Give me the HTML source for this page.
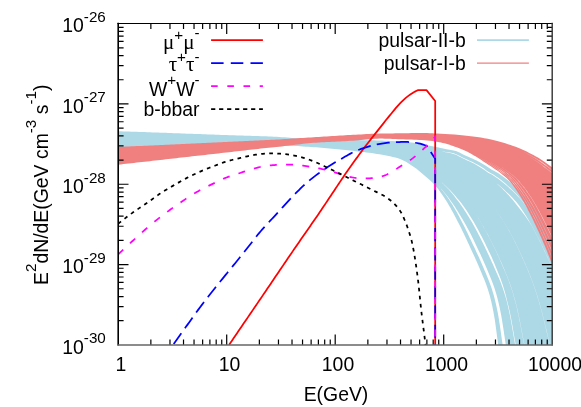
<!DOCTYPE html>
<html><head><meta charset="utf-8"><title>plot</title>
<style>html,body{margin:0;padding:0;background:#fff;width:581px;height:407px;overflow:hidden}
svg{display:block}text{white-space:pre}</style></head>
<body>
<svg width="581" height="407" viewBox="0 0 581 407" style="position:absolute;left:0;top:0;will-change:transform">
<defs><clipPath id="c"><rect x="118.2" y="23.6" width="434" height="321.3"/></clipPath></defs>
<g clip-path="url(#c)">
<path d="M118.2,131.2L120.84,131.29L123.48,131.38L126.12,131.47L128.76,131.57L131.4,131.66L134.04,131.75L136.68,131.84L139.32,131.94L141.96,132.03L144.6,132.12L147.24,132.21L149.88,132.31L152.52,132.4L155.16,132.49L157.8,132.59L160.44,132.68L163.08,132.77L165.72,132.87L168.36,132.96L171,133.06L173.64,133.15L176.28,133.25L178.92,133.34L181.56,133.44L184.2,133.53L186.84,133.63L189.48,133.73L192.12,133.83L194.76,133.92L197.4,134.02L200.04,134.12L202.68,134.22L205.32,134.32L207.96,134.41L210.6,134.51L213.24,134.61L215.88,134.7L218.52,134.8L221.16,134.89L223.8,134.98L226.44,135.08L229.08,135.17L231.72,135.26L234.36,135.34L237,135.42L239.64,135.5L242.28,135.58L244.92,135.66L247.56,135.73L250.2,135.81L252.84,135.89L255.48,135.97L258.12,136.06L260.76,136.14L263.4,136.24L266.04,136.34L268.68,136.44L271.32,136.56L273.96,136.7L276.6,136.85L279.24,137.01L281.88,137.19L284.52,137.37L287.16,137.55L289.8,137.73L292.44,137.89L295.08,138.05L297.72,138.19L300.36,138.31L303,138.43L305.64,138.56L308.28,138.67L310.92,138.79L313.56,138.9L316.2,139.01L318.84,139.12L321.48,139.22L324.12,139.32L326.76,139.41L329.4,139.5L332.04,139.58L334.68,139.66L337.32,139.73L339.96,139.8L342.6,139.86L345.24,139.91L347.88,139.96L350.52,140L353.16,140.04L355.8,140.07L358.44,140.11L361.08,140.14L363.72,140.18L366.36,140.22L369,140.26L371.64,140.31L374.28,140.36L376.92,140.42L379.56,140.49L382.2,140.57L384.84,140.67L387.48,140.78L390.12,140.91L392.76,141.06L395.4,141.23L398.04,141.41L400.68,141.6L403.32,141.81L405.96,142.03L408.6,142.27L411.24,142.53L413.88,142.85L416.52,143.23L419.16,143.67L421.8,144.16L424.44,144.67L427.08,145.2L429.72,145.74L432.36,146.28L435,146.8L435.43,146.89L436.3,147.06L437.43,147.29L438.79,147.58L440.34,147.92L442.1,148.3L444.08,148.71L446.44,149.17L449.38,149.66L452.34,150.19L454.79,150.75L456.65,151.33L458.15,151.95L459.52,152.6L460.86,153.28L462.22,153.99L463.66,154.72L465.24,155.48L467.02,156.26L468.91,157.07L470.87,157.9L472.83,158.76L474.75,159.64L476.6,160.55L478.41,161.47L480.2,162.42L481.95,163.4L483.67,164.39L485.36,165.41L486.98,166.44L488.45,167.5L489.95,168.58L491.68,169.68L493.82,170.8L496.04,171.94L497.96,173.1L499.77,174.28L501.54,175.48L503.26,176.69L504.94,177.93L506.58,179.18L508.2,180.46L509.79,181.75L511.35,183.06L512.88,184.38L514.4,185.73L515.9,187.09L517.38,188.47L518.84,189.87L520.29,191.28L521.7,192.72L523.08,194.17L524.43,195.63L525.75,197.11L527.04,198.61L528.31,200.13L529.56,201.66L530.79,203.21L532,204.77L533.2,206.35L534.38,207.95L535.55,209.56L536.7,211.19L537.85,212.83L538.98,214.49L540.11,216.16L541.2,217.85L542.26,219.56L543.29,221.28L544.29,223.01L545.28,224.76L546.25,226.52L547.21,228.3L548.16,230.1L549.1,231.91L550.04,233.73L550.97,235.57L551.91,237.42L552.84,239.28L553.77,241.16L554.7,243.06L555.63,244.97L556.56,246.89L557.48,248.82L558.39,250.77L559.31,252.74L560.22,254.72L561.13,256.71L562.03,258.71L562.93,260.73L563.83,262.76L564.72,264.81L565.61,266.87L566.5,268.94L567.38,271.03L568.26,273.13L569.13,275.24L570,277.36L570.87,279.5L571.73,281.65L572.59,283.82L573.45,285.99L574.3,288.18L575.15,290.39L575.98,292.6L576.81,294.83L577.62,297.07L578.43,299.32L579.23,301.59L580.01,303.87L580.8,306.16L581.58,308.46L582.35,310.78L583.12,313.11L583.89,315.45L584.65,317.8L585.42,320.16L586.18,322.54L586.94,324.93L587.7,327.33L588.46,329.74L589.23,332.17L589.99,334.6L590.76,337.05L591.53,339.51L592.31,341.99L593.08,344.47L593.87,346.97L594.66,349.48L595.45,352L596.25,354.53L597.06,357.07L597.88,359.62L598.7,362.19L599.53,364.77L600.36,367.36L601.19,369.96L602.02,372.57L602.86,375.19L603.69,377.83L604.53,380.47L605.38,383.13L606.22,385.8L607.07,388.48L607.91,391.17L608.76,393.87L609.62,396.58L610.47,399.31L611.33,402.04L612.18,404.79L613.05,407.55L613.91,410.32L614.77,413.1L615.64,415.89L616.51,418.69L617.38,421.5L618.25,424.32L619.12,427.16L620,430L509,430L508.72,427.54L508.45,425.1L508.17,422.66L507.89,420.23L507.61,417.81L507.33,415.4L507.05,413L506.77,410.61L506.49,408.23L506.21,405.85L505.92,403.49L505.64,401.14L505.35,398.8L505.07,396.46L504.78,394.14L504.5,391.82L504.21,389.52L503.92,387.22L503.63,384.94L503.34,382.66L503.05,380.4L502.76,378.14L502.46,375.89L502.17,373.66L501.87,371.43L501.57,369.22L501.27,367.01L500.97,364.81L500.66,362.63L500.36,360.45L500.06,358.28L499.76,356.13L499.45,353.98L499.16,351.85L498.86,349.72L498.56,347.61L498.27,345.5L497.98,343.41L497.7,341.32L497.43,339.25L497.16,337.19L496.89,335.13L496.62,333.09L496.36,331.06L496.09,329.04L495.82,327.03L495.55,325.03L495.27,323.04L494.98,321.06L494.68,319.09L494.37,317.13L494.03,315.19L493.68,313.25L493.32,311.33L492.94,309.42L492.56,307.51L492.16,305.62L491.75,303.74L491.33,301.87L490.89,300.01L490.43,298.17L489.95,296.33L489.45,294.51L488.91,292.69L488.36,290.89L487.78,289.1L487.18,287.33L486.56,285.56L485.92,283.8L485.26,282.06L484.58,280.33L483.89,278.61L483.18,276.9L482.47,275.2L481.77,273.52L481.06,271.85L480.38,270.19L479.69,268.54L479.01,266.9L478.31,265.28L477.61,263.67L476.91,262.07L476.2,260.48L475.49,258.91L474.78,257.34L474.07,255.79L473.36,254.26L472.66,252.73L471.96,251.22L471.26,249.72L470.57,248.24L469.89,246.77L469.22,245.31L468.55,243.86L467.89,242.43L467.23,241.01L466.58,239.61L465.93,238.21L465.28,236.84L464.64,235.47L463.99,234.12L463.35,232.78L462.71,231.46L462.08,230.15L461.44,228.86L460.8,227.58L460.16,226.31L459.52,225.06L458.89,223.82L458.26,222.6L457.64,221.39L457.03,220.2L456.42,219.02L455.81,217.86L455.21,216.71L454.62,215.58L454.03,214.47L453.44,213.37L452.86,212.29L452.28,211.22L451.7,210.17L451.13,209.13L450.56,208.11L449.99,207.11L449.43,206.13L448.87,205.16L448.31,204.21L447.75,203.28L447.19,202.37L446.63,201.47L446.08,200.59L445.53,199.74L444.98,198.9L444.44,198.07L443.91,197.27L443.39,196.49L442.88,195.73L442.37,194.99L441.87,194.27L441.39,193.57L440.91,192.89L440.44,192.24L439.98,191.61L439.53,191L439.09,190.41L438.67,189.85L438.25,189.32L437.86,188.81L437.47,188.33L437.11,187.87L436.76,187.45L436.43,187.05L436.13,186.69L435.85,186.37L435.6,186.08L435.38,185.83L435.2,185.62L435.07,185.47L435,185.4L432.36,182.61L429.72,180.08L427.08,177.71L424.44,175.43L421.8,173.17L419.16,170.94L416.52,168.83L413.88,166.95L411.24,165.15L408.6,163.41L405.96,161.79L403.32,160.38L400.68,159.24L398.04,158.37L395.4,157.6L392.76,156.92L390.12,156.31L387.48,155.76L384.84,155.25L382.2,154.78L379.56,154.33L376.92,153.9L374.28,153.49L371.64,153.1L369,152.74L366.36,152.39L363.72,152.06L361.08,151.74L358.44,151.43L355.8,151.13L353.16,150.84L350.52,150.56L347.88,150.27L345.24,150L342.6,149.72L339.96,149.45L337.32,149.19L334.68,148.94L332.04,148.69L329.4,148.44L326.76,148.21L324.12,147.98L321.48,147.76L318.84,147.56L316.2,147.36L313.56,147.17L310.92,146.99L308.28,146.82L305.64,146.63L303,146.45L300.36,146.27L297.72,146.11L295.08,145.97L292.44,145.87L289.8,145.81L287.16,145.8L284.52,145.83L281.88,145.88L279.24,145.95L276.6,146.04L273.96,146.14L271.32,146.25L268.68,146.36L266.04,146.49L263.4,146.64L260.76,146.82L258.12,147.02L255.48,147.23L252.84,147.46L250.2,147.7L247.56,147.95L244.92,148.2L242.28,148.46L239.64,148.71L237,148.96L234.36,149.21L231.72,149.45L229.08,149.68L226.44,149.91L223.8,150.13L221.16,150.36L218.52,150.59L215.88,150.82L213.24,151.05L210.6,151.28L207.96,151.52L205.32,151.75L202.68,151.98L200.04,152.22L197.4,152.46L194.76,152.69L192.12,152.93L189.48,153.17L186.84,153.41L184.2,153.65L181.56,153.89L178.92,154.14L176.28,154.38L173.64,154.63L171,154.87L168.36,155.12L165.72,155.37L163.08,155.62L160.44,155.87L157.8,156.12L155.16,156.37L152.52,156.62L149.88,156.88L147.24,157.13L144.6,157.39L141.96,157.64L139.32,157.9L136.68,158.16L134.04,158.42L131.4,158.68L128.76,158.94L126.12,159.21L123.48,159.47L120.84,159.73L118.2,160ZM437.91,185.39L438.44,185.84L438.97,186.31L439.46,186.82L439.95,187.35L440.45,187.91L440.95,188.49L441.46,189.09L442,189.72L442.55,190.37L443.12,191.04L443.71,191.74L444.32,192.46L444.93,193.19L445.55,193.95L446.18,194.73L446.81,195.53L447.44,196.34L448.09,197.18L448.73,198.04L449.38,198.91L450.02,199.81L450.66,200.72L451.3,201.65L451.96,202.6L452.65,203.56L453.35,204.55L454.04,205.55L454.71,206.57L455.39,207.6L456.07,208.65L456.75,209.72L457.43,210.8L458.11,211.9L458.8,213.02L459.48,214.15L460.17,215.3L460.87,216.47L461.57,217.65L462.27,218.84L462.98,220.05L463.69,221.28L464.4,222.52L465.13,223.77L465.84,225.04L466.56,226.33L467.27,227.63L467.99,228.94L468.7,230.27L469.41,231.61L470.12,232.97L470.84,234.34L471.54,235.73L472.23,237.14L472.93,238.57L473.62,240L474.33,241.45L475.03,242.92L475.74,244.4L476.45,245.89L477.17,247.39L477.89,248.91L478.61,250.44L479.34,251.98L480.07,253.54L480.8,255.11L481.53,256.69L482.26,258.29L482.98,259.89L483.7,261.51L484.42,263.15L485.14,264.79L485.85,266.45L486.55,268.12L487.25,269.8L487.97,271.49L488.7,273.2L489.42,274.92L490.15,276.65L490.86,278.39L491.56,280.15L492.24,281.91L492.9,283.69L493.54,285.48L494.16,287.28L494.77,289.09L495.35,290.92L495.91,292.75L496.44,294.6L496.96,296.46L497.45,298.33L497.92,300.21L498.38,302.11L498.83,304.01L499.26,305.93L499.68,307.85L500.09,309.79L500.5,311.74L500.89,313.7L501.26,315.67L501.61,317.66L501.95,319.65L502.28,321.65L502.6,323.67L502.92,325.69L503.23,327.73L503.53,329.78L503.84,331.84L504.15,333.91L504.46,335.99L504.77,338.08L505.08,340.18L505.4,342.29L505.73,344.41L506.06,346.54L506.39,348.68L506.73,350.84L507.07,353L507.41,355.17L507.75,357.36L508.09,359.55L508.44,361.76L508.78,363.97L509.12,366.19L509.47,368.43L509.81,370.67L510.15,372.93L510.49,375.19L510.83,377.47L511.17,379.75L511.5,382.05L511.84,384.36L512.17,386.67L512.5,388.99L512.84,391.33L513.17,393.67L513.5,396.03L513.83,398.39L514.16,400.77L514.5,403.15L514.83,405.54L515.16,407.94L515.48,410.36L515.81,412.78L516.14,415.21L516.47,417.65L516.8,420.1L517.12,422.56L517.45,425.03L517.78,427.51L518.1,430L514.33,430L514.02,427.52L513.72,425.06L513.41,422.6L513.1,420.16L512.8,417.72L512.49,415.29L512.18,412.87L511.87,410.46L511.56,408.06L511.25,405.67L510.94,403.29L510.63,400.92L510.32,398.56L510.01,396.21L509.69,393.87L509.38,391.53L509.06,389.21L508.75,386.9L508.43,384.6L508.12,382.3L507.8,380.02L507.48,377.75L507.16,375.49L506.84,373.23L506.52,370.99L506.19,368.76L505.87,366.53L505.54,364.32L505.21,362.12L504.89,359.92L504.56,357.74L504.24,355.57L503.91,353.41L503.59,351.26L503.27,349.11L502.95,346.98L502.64,344.86L502.32,342.75L502.02,340.65L501.72,338.56L501.43,336.48L501.14,334.41L500.85,332.36L500.56,330.31L500.27,328.27L499.97,326.25L499.68,324.23L499.37,322.23L499.06,320.23L498.74,318.25L498.4,316.28L498.05,314.32L497.67,312.37L497.28,310.43L496.89,308.5L496.48,306.58L496.06,304.68L495.63,302.78L495.19,300.9L494.73,299.03L494.25,297.17L493.75,295.32L493.23,293.48L492.68,291.65L492.11,289.84L491.52,288.04L490.91,286.24L490.27,284.46L489.62,282.7L488.94,280.94L488.25,279.19L487.55,277.46L486.84,275.74L486.12,274.03L485.4,272.33L484.69,270.65L483.99,268.98L483.29,267.31L482.59,265.67L481.89,264.03L481.18,262.41L480.46,260.79L479.75,259.2L479.02,257.61L478.3,256.04L477.58,254.47L476.86,252.93L476.14,251.39L475.43,249.87L474.72,248.36L474.01,246.86L473.32,245.38L472.62,243.91L471.93,242.45L471.25,241.01L470.56,239.58L469.89,238.16L469.21,236.76L468.55,235.37L467.9,233.98L467.26,232.61L466.61,231.25L465.97,229.91L465.32,228.58L464.67,227.26L464.02,225.96L463.37,224.67L462.72,223.4L462.07,222.14L461.42,220.89L460.78,219.66L460.14,218.45L459.5,217.25L458.87,216.07L458.24,214.9L457.61,213.75L456.99,212.61L456.36,211.49L455.74,210.39L455.12,209.3L454.49,208.22L453.87,207.17L453.25,206.13L452.62,205.11L451.98,204.1L451.34,203.11L450.72,202.14L450.12,201.19L449.53,200.26L448.92,199.34L448.31,198.44L447.7,197.56L447.1,196.7L446.5,195.86L445.9,195.04L445.31,194.24L444.72,193.46L444.13,192.7L443.55,191.96L442.98,191.25L442.43,190.55L441.9,189.88L441.38,189.23L440.88,188.6L440.39,188L439.91,187.43L439.44,186.88L438.95,186.35L438.44,185.86L437.91,185.39ZM439.38,180.8L440.22,181.27L441,181.75L441.67,182.26L442.29,182.79L442.9,183.36L443.52,183.95L444.14,184.56L444.79,185.2L445.48,185.86L446.22,186.54L446.98,187.25L447.76,187.97L448.56,188.72L449.35,189.49L450.14,190.28L450.93,191.09L451.72,191.92L452.51,192.77L453.3,193.64L454.09,194.53L454.87,195.44L455.62,196.36L456.37,197.31L457.18,198.27L458.07,199.25L458.98,200.25L459.83,201.27L460.66,202.3L461.49,203.35L462.31,204.42L463.12,205.52L463.91,206.63L464.7,207.77L465.49,208.92L466.27,210.08L467.06,211.27L467.84,212.46L468.62,213.68L469.41,214.91L470.19,216.15L470.98,217.41L471.77,218.69L472.55,219.98L473.33,221.28L474.11,222.6L474.87,223.94L475.64,225.29L476.4,226.65L477.15,228.03L477.91,229.42L478.66,230.83L479.41,232.25L480.16,233.69L480.92,235.14L481.67,236.6L482.43,238.08L483.18,239.57L483.94,241.07L484.7,242.59L485.45,244.12L486.21,245.67L486.96,247.22L487.72,248.79L488.48,250.38L489.24,251.98L489.99,253.59L490.75,255.21L491.5,256.85L492.25,258.49L492.99,260.16L493.7,261.84L494.41,263.54L495.11,265.25L495.81,266.97L496.53,268.7L497.25,270.45L497.97,272.21L498.68,273.98L499.39,275.76L500.08,277.55L500.75,279.36L501.41,281.18L502.05,283.01L502.68,284.85L503.28,286.7L503.86,288.57L504.43,290.44L504.97,292.33L505.49,294.23L506,296.14L506.48,298.06L506.95,300L507.44,301.93L507.93,303.88L508.4,305.84L508.86,307.81L509.31,309.79L509.75,311.78L510.17,313.79L510.58,315.8L510.97,317.83L511.35,319.86L511.72,321.91L512.09,323.97L512.45,326.04L512.81,328.12L513.17,330.22L513.53,332.32L513.89,334.43L514.25,336.56L514.62,338.69L514.99,340.84L515.37,343L515.75,345.16L516.14,347.34L516.52,349.53L516.91,351.73L517.3,353.94L517.69,356.16L518.09,358.39L518.48,360.63L518.88,362.88L519.28,365.14L519.68,367.41L520.07,369.69L520.47,371.99L520.87,374.29L521.26,376.6L521.66,378.93L522.05,381.26L522.44,383.6L522.84,385.95L523.23,388.32L523.62,390.69L524.01,393.07L524.4,395.47L524.8,397.87L525.19,400.28L525.58,402.71L525.97,405.14L526.36,407.58L526.75,410.03L527.14,412.49L527.53,414.97L527.92,417.45L528.31,419.94L528.7,422.44L529.09,424.95L529.48,427.47L529.87,430L529.2,430L528.82,427.47L528.43,424.95L528.04,422.45L527.66,419.95L527.27,417.46L526.89,414.98L526.5,412.51L526.11,410.05L525.72,407.6L525.34,405.16L524.95,402.73L524.56,400.31L524.17,397.9L523.79,395.5L523.4,393.11L523.01,390.73L522.62,388.36L522.23,385.99L521.84,383.64L521.45,381.3L521.06,378.97L520.67,376.65L520.28,374.34L519.89,372.04L519.49,369.75L519.1,367.47L518.7,365.2L518.31,362.94L517.91,360.69L517.52,358.45L517.13,356.23L516.74,354.01L516.35,351.8L515.97,349.6L515.58,347.42L515.2,345.24L514.82,343.08L514.45,340.92L514.08,338.78L513.72,336.64L513.36,334.52L513,332.41L512.64,330.31L512.29,328.22L511.93,326.14L511.57,324.07L511.2,322.01L510.83,319.97L510.46,317.93L510.07,315.91L509.67,313.89L509.25,311.89L508.81,309.9L508.36,307.92L507.9,305.95L507.44,303.99L506.96,302.05L506.47,300.11L505.93,298.2L505.38,296.3L504.81,294.41L504.23,292.53L503.62,290.66L502.99,288.81L502.35,286.96L501.68,285.13L501,283.31L500.3,281.51L499.58,279.71L498.85,277.93L498.1,276.16L497.34,274.4L496.56,272.65L495.79,270.92L495.02,269.2L494.25,267.49L493.49,265.79L492.74,264.11L491.98,262.44L491.21,260.78L490.46,259.12L489.72,257.48L488.97,255.85L488.23,254.23L487.48,252.63L486.72,251.04L485.97,249.46L485.22,247.89L484.47,246.34L483.72,244.8L482.98,243.28L482.23,241.77L481.48,240.27L480.74,238.78L479.99,237.31L479.25,235.85L478.51,234.41L477.77,232.98L477.03,231.56L476.29,230.16L475.55,228.77L474.81,227.4L474.06,226.04L473.31,224.69L472.56,223.36L471.81,222.05L471.04,220.75L470.28,219.46L469.51,218.19L468.74,216.94L467.97,215.7L467.21,214.47L466.45,213.26L465.69,212.07L464.92,210.89L464.16,209.73L463.4,208.58L462.64,207.45L461.87,206.34L461.11,205.24L460.35,204.15L459.6,203.07L458.83,202.01L458.05,200.96L457.21,199.93L456.39,198.92L455.65,197.93L454.94,196.96L454.23,196.01L453.51,195.07L452.77,194.15L452.02,193.26L451.28,192.38L450.53,191.52L449.78,190.68L449.04,189.86L448.28,189.06L447.52,188.28L446.78,187.53L446.04,186.79L445.34,186.08L444.67,185.39L444.04,184.73L443.44,184.09L442.84,183.48L442.25,182.89L441.64,182.32L440.98,181.79L440.22,181.27L439.38,180.8ZM469.2,204.94L470.07,206.11L470.93,207.29L471.8,208.48L472.66,209.7L473.52,210.92L474.38,212.17L475.23,213.43L476.09,214.7L476.95,215.99L477.8,217.3L478.64,218.62L479.47,219.96L480.29,221.31L481.11,222.67L481.92,224.05L482.73,225.45L483.53,226.86L484.33,228.28L485.13,229.72L485.93,231.17L486.73,232.64L487.53,234.12L488.32,235.62L489.12,237.13L489.92,238.65L490.7,240.18L491.49,241.73L492.28,243.3L493.06,244.88L493.84,246.47L494.62,248.07L495.4,249.69L496.18,251.32L496.95,252.96L497.73,254.62L498.5,256.29L499.27,257.97L500.03,259.66L500.79,261.37L501.54,263.09L502.29,264.83L503.06,266.57L503.82,268.33L504.59,270.11L505.35,271.89L506.11,273.69L506.85,275.49L507.58,277.32L508.29,279.15L508.99,280.99L509.67,282.85L510.33,284.72L510.98,286.6L511.61,288.5L512.22,290.4L512.81,292.32L513.38,294.25L513.94,296.19L514.49,298.14L515.02,300.1L515.54,302.08L516.06,304.06L516.56,306.06L517.06,308.07L517.54,310.09L518.01,312.13L518.46,314.17L518.89,316.22L519.32,318.29L519.74,320.37L520.15,322.46L520.56,324.56L520.97,326.67L521.38,328.79L521.78,330.92L522.19,333.07L522.6,335.22L523.01,337.39L523.42,339.56L523.85,341.75L524.27,343.95L524.7,346.16L525.13,348.38L525.56,350.61L526,352.85L526.44,355.1L526.88,357.36L527.32,359.64L527.76,361.92L528.2,364.21L528.65,366.52L529.1,368.83L529.55,371.16L529.99,373.49L530.44,375.84L530.88,378.2L531.33,380.56L531.77,382.94L532.21,385.33L532.66,387.72L533.1,390.13L533.54,392.55L533.99,394.97L534.43,397.41L534.88,399.86L535.32,402.32L535.77,404.78L536.21,407.26L536.65,409.75L537.1,412.24L537.54,414.75L537.99,417.27L538.43,419.8L538.88,422.33L539.32,424.88L539.77,427.43L540.21,430L539.95,430L539.5,427.44L539.06,424.88L538.62,422.33L538.17,419.8L537.73,417.27L537.29,414.76L536.84,412.25L536.4,409.76L535.96,407.27L535.51,404.79L535.07,402.33L534.63,399.87L534.18,397.42L533.74,394.99L533.3,392.56L532.86,390.14L532.41,387.74L531.97,385.34L531.53,382.96L531.09,380.58L530.64,378.21L530.2,375.86L529.76,373.51L529.31,371.18L528.87,368.86L528.42,366.54L527.97,364.24L527.53,361.95L527.09,359.66L526.65,357.39L526.21,355.13L525.78,352.88L525.34,350.64L524.91,348.41L524.48,346.19L524.05,343.98L523.63,341.78L523.21,339.6L522.79,337.42L522.38,335.26L521.98,333.1L521.57,330.96L521.17,328.83L520.76,326.71L520.35,324.6L519.95,322.5L519.53,320.41L519.11,318.33L518.69,316.27L518.25,314.21L517.8,312.17L517.34,310.14L516.86,308.12L516.36,306.11L515.86,304.11L515.35,302.12L514.83,300.15L514.29,298.19L513.75,296.23L513.19,294.29L512.62,292.37L512.03,290.45L511.42,288.55L510.79,286.65L510.14,284.77L509.48,282.9L508.8,281.05L508.11,279.2L507.39,277.37L506.66,275.55L505.92,273.74L505.17,271.95L504.41,270.16L503.64,268.39L502.87,266.63L502.11,264.89L501.36,263.15L500.61,261.43L499.85,259.73L499.09,258.03L498.33,256.35L497.56,254.68L496.8,253.02L496.02,251.37L495.25,249.74L494.48,248.12L493.7,246.52L492.93,244.93L492.15,243.35L491.37,241.78L490.59,240.23L489.8,238.69L489.01,237.17L488.22,235.66L487.43,234.16L486.64,232.68L485.84,231.21L485.05,229.76L484.26,228.32L483.46,226.89L482.66,225.48L481.86,224.08L481.05,222.7L480.24,221.33L479.42,219.98L478.59,218.64L477.76,217.32L476.91,216.01L476.06,214.72L475.21,213.44L474.36,212.18L473.5,210.93L472.65,209.7L471.79,208.49L470.93,207.29L470.06,206.11L469.2,204.94ZM489.4,201.99L490.5,203.29L491.58,204.6L492.66,205.92L493.73,207.27L494.78,208.63L495.81,210L496.82,211.39L497.82,212.8L498.81,214.22L499.79,215.66L500.75,217.11L501.71,218.57L502.66,220.06L503.61,221.55L504.54,223.07L505.48,224.59L506.4,226.13L507.33,227.69L508.25,229.26L509.16,230.85L510.05,232.44L510.93,234.06L511.79,235.69L512.65,237.33L513.51,238.98L514.36,240.65L515.2,242.34L516.04,244.03L516.88,245.74L517.71,247.47L518.54,249.2L519.38,250.96L520.2,252.72L521.02,254.5L521.84,256.29L522.66,258.09L523.48,259.91L524.31,261.74L525.13,263.59L525.95,265.44L526.76,267.31L527.56,269.2L528.35,271.09L529.14,273L529.91,274.92L530.67,276.85L531.41,278.8L532.15,280.76L532.87,282.73L533.58,284.71L534.28,286.7L534.96,288.71L535.63,290.73L536.3,292.76L536.95,294.81L537.6,296.86L538.24,298.93L538.87,301.01L539.48,303.1L540.09,305.2L540.69,307.32L541.27,309.45L541.83,311.59L542.4,313.74L542.95,315.9L543.5,318.07L544.04,320.26L544.59,322.46L545.13,324.66L545.67,326.88L546.21,329.12L546.75,331.36L547.29,333.61L547.84,335.88L548.39,338.15L548.94,340.44L549.5,342.74L550.05,345.05L550.62,347.37L551.18,349.71L551.75,352.05L552.32,354.4L552.89,356.77L553.47,359.15L554.05,361.53L554.64,363.93L555.22,366.34L555.81,368.76L556.4,371.19L556.99,373.63L557.58,376.08L558.17,378.55L558.77,381.02L559.36,383.5L559.95,386L560.55,388.5L561.14,391.02L561.74,393.55L562.33,396.08L562.93,398.63L563.53,401.19L564.13,403.76L564.73,406.33L565.33,408.92L565.93,411.52L566.53,414.13L567.13,416.75L567.74,419.38L568.34,422.02L568.95,424.67L569.55,427.33L570.16,430L569.94,430L569.33,427.33L568.73,424.67L568.12,422.02L567.52,419.38L566.92,416.75L566.32,414.13L565.72,411.53L565.12,408.93L564.52,406.34L563.92,403.76L563.32,401.2L562.72,398.64L562.13,396.09L561.53,393.56L560.94,391.03L560.34,388.52L559.75,386.01L559.16,383.52L558.57,381.03L557.98,378.56L557.39,376.1L556.8,373.65L556.21,371.21L555.62,368.78L555.03,366.36L554.44,363.95L553.86,361.55L553.28,359.17L552.7,356.79L552.13,354.43L551.56,352.07L550.99,349.73L550.43,347.4L549.87,345.08L549.31,342.77L548.76,340.47L548.2,338.18L547.66,335.91L547.11,333.64L546.57,331.39L546.03,329.15L545.49,326.91L544.95,324.7L544.41,322.49L543.87,320.29L543.33,318.11L542.78,315.93L542.22,313.77L541.66,311.62L541.1,309.48L540.52,307.36L539.92,305.24L539.32,303.14L538.7,301.05L538.07,298.97L537.43,296.9L536.79,294.85L536.13,292.8L535.47,290.77L534.8,288.75L534.12,286.75L533.42,284.75L532.71,282.77L531.99,280.8L531.26,278.84L530.51,276.9L529.75,274.96L528.98,273.04L528.2,271.14L527.41,269.24L526.6,267.36L525.79,265.49L524.98,263.64L524.15,261.79L523.33,259.96L522.51,258.14L521.69,256.34L520.87,254.55L520.05,252.77L519.23,251.01L518.4,249.25L517.57,247.52L516.74,245.79L515.91,244.08L515.08,242.38L514.24,240.7L513.39,239.03L512.55,237.37L511.69,235.73L510.83,234.1L509.95,232.48L509.07,230.88L508.16,229.3L507.25,227.72L506.33,226.17L505.4,224.62L504.48,223.1L503.54,221.58L502.6,220.08L501.66,218.6L500.71,217.13L499.74,215.68L498.77,214.24L497.79,212.81L496.79,211.41L495.78,210.01L494.76,208.64L493.71,207.27L492.65,205.93L491.58,204.6L490.49,203.29L489.4,201.99ZM440.01,150.8L441.65,151.13L443.53,151.5L445.75,151.9L448.53,152.31L451.33,152.76L453.66,153.3L455.42,153.88L456.84,154.49L458.15,155.14L459.43,155.81L460.73,156.51L462.1,157.23L463.61,157.98L465.31,158.76L467.1,159.56L468.96,160.39L470.82,161.24L472.65,162.11L474.41,163.01L476.14,163.93L477.84,164.87L479.51,165.83L481.16,166.82L482.77,167.82L484.31,168.85L485.72,169.9L487.16,170.97L488.81,172.06L490.84,173.17L492.95,174.3L494.77,175.45L496.49,176.63L498.16,177.82L499.79,179.04L501.39,180.27L502.94,181.52L504.47,182.8L505.97,184.08L507.45,185.39L508.91,186.72L510.34,188.06L511.76,189.42L513.16,190.8L514.55,192.19L515.92,193.6L517.26,195.03L518.56,196.47L519.84,197.94L521.08,199.41L522.32,200.9L523.55,202.4L524.75,203.92L525.94,205.45L527.11,207L528.26,208.57L529.41,210.15L530.54,211.74L531.66,213.35L532.77,214.98L533.87,216.62L534.96,218.28L536.03,219.95L537.06,221.64L538.06,223.34L539.04,225.06L540.01,226.79L540.96,228.54L541.9,230.3L542.83,232.07L543.75,233.87L544.68,235.67L545.59,237.49L546.51,239.32L547.43,241.17L548.35,243.03L549.26,244.91L550.17,246.8L551.07,248.7L551.98,250.62L552.88,252.55L553.78,254.49L554.68,256.45L555.57,258.42L556.46,260.41L557.34,262.41L558.22,264.42L559.09,266.44L559.96,268.48L560.82,270.53L561.68,272.6L562.54,274.68L563.38,276.77L564.23,278.87L565.06,280.99L565.9,283.12L566.72,285.26L567.55,287.42L568.37,289.59L569.18,291.77L569.98,293.96L570.77,296.17L571.56,298.39L572.33,300.62L573.09,302.86L573.84,305.12L574.59,307.38L575.33,309.66L576.07,311.96L576.8,314.26L577.53,316.58L578.26,318.91L578.99,321.25L579.71,323.6L580.44,325.97L581.17,328.35L581.89,330.73L582.62,333.14L583.35,335.55L584.09,337.97L584.82,340.41L585.56,342.86L586.31,345.32L587.06,347.79L587.81,350.27L588.57,352.77L589.33,355.27L590.11,357.79L590.89,360.32L591.67,362.86L592.46,365.41L593.25,367.98L594.04,370.55L594.84,373.14L595.63,375.73L596.43,378.34L597.23,380.96L598.03,383.59L598.83,386.24L599.64,388.89L600.45,391.55L601.26,394.23L602.07,396.92L602.88,399.61L603.69,402.32L604.51,405.04L605.33,407.77L606.15,410.51L606.97,413.26L607.8,416.03L608.62,418.8L609.45,421.58L610.28,424.38L611.11,427.18L611.94,430L611.41,430L610.58,427.19L609.75,424.38L608.92,421.59L608.1,418.81L607.28,416.03L606.46,413.27L605.64,410.52L604.82,407.78L604,405.06L603.19,402.34L602.38,399.63L601.57,396.94L600.76,394.25L599.95,391.58L599.15,388.92L598.35,386.26L597.55,383.62L596.75,381L595.95,378.38L595.15,375.77L594.36,373.17L593.57,370.59L592.78,368.02L591.99,365.46L591.21,362.91L590.42,360.37L589.65,357.84L588.88,355.32L588.11,352.82L587.36,350.33L586.61,347.84L585.86,345.37L585.12,342.92L584.38,340.47L583.65,338.03L582.92,335.61L582.19,333.2L581.46,330.8L580.73,328.41L580.01,326.04L579.29,323.67L578.56,321.32L577.84,318.98L577.11,316.65L576.38,314.34L575.65,312.03L574.92,309.74L574.18,307.46L573.43,305.2L572.68,302.94L571.92,300.7L571.15,298.47L570.38,296.26L569.59,294.05L568.78,291.86L567.97,289.68L567.16,287.51L566.34,285.36L565.51,283.22L564.68,281.09L563.84,278.97L563,276.87L562.16,274.78L561.31,272.7L560.45,270.64L559.59,268.59L558.72,266.55L557.85,264.53L556.97,262.52L556.09,260.52L555.2,258.54L554.31,256.57L553.42,254.61L552.52,252.67L551.62,250.74L550.71,248.82L549.81,246.92L548.9,245.03L547.99,243.16L547.07,241.29L546.16,239.45L545.24,237.62L544.32,235.8L543.4,233.99L542.48,232.21L541.55,230.43L540.61,228.67L539.66,226.93L538.69,225.19L537.71,223.48L536.71,221.78L535.68,220.09L534.62,218.42L533.53,216.76L532.43,215.12L531.33,213.5L530.21,211.89L529.08,210.29L527.94,208.71L526.78,207.15L525.62,205.6L524.43,204.07L523.23,202.55L522.01,201.05L520.76,199.57L519.47,198.12L518.16,196.68L516.82,195.26L515.45,193.85L514.05,192.46L512.63,191.09L511.2,189.73L509.76,188.39L508.3,187.07L506.82,185.77L505.32,184.48L503.8,183.22L502.25,181.97L500.68,180.74L499.08,179.52L497.44,178.33L495.76,177.16L494.03,176L492.22,174.86L490.13,173.73L488.12,172.63L486.49,171.54L485.07,170.47L483.67,169.43L482.15,168.4L480.55,167.4L478.93,166.41L477.27,165.45L475.59,164.51L473.89,163.59L472.15,162.7L470.34,161.83L468.5,160.98L466.67,160.16L464.9,159.36L463.22,158.58L461.73,157.83L460.38,157.11L459.09,156.41L457.83,155.74L456.53,155.1L455.12,154.49L453.39,153.9L451.11,153.33L448.39,152.74L445.68,152.19L443.49,151.68L441.64,151.22L440.01,150.8ZM495.1,182.22L496.62,183.41L498.14,184.61L499.64,185.83L501.11,187.07L502.56,188.32L503.99,189.6L505.41,190.89L506.81,192.2L508.2,193.53L509.58,194.87L510.95,196.23L512.29,197.61L513.6,199.01L514.88,200.42L516.14,201.86L517.35,203.31L518.52,204.8L519.63,206.33L520.72,207.87L521.79,209.42L522.85,211L523.89,212.58L524.93,214.19L525.95,215.8L526.96,217.44L527.96,219.09L528.95,220.75L529.92,222.43L530.86,224.12L531.83,225.8L532.79,227.5L533.73,229.21L534.66,230.93L535.58,232.68L536.49,234.43L537.39,236.2L538.29,237.98L539.19,239.78L540.09,241.59L540.99,243.42L541.88,245.26L542.77,247.11L543.66,248.98L544.55,250.86L545.44,252.75L546.32,254.66L547.2,256.58L548.08,258.52L548.95,260.46L549.82,262.43L550.68,264.4L551.54,266.39L552.39,268.39L553.23,270.41L554.07,272.43L554.9,274.47L555.72,276.53L556.54,278.59L557.35,280.67L558.15,282.76L558.95,284.87L559.74,286.99L560.52,289.11L561.3,291.26L562.07,293.41L562.84,295.58L563.59,297.76L564.33,299.95L565.06,302.16L565.78,304.37L566.49,306.6L567.2,308.84L567.89,311.1L568.59,313.36L569.28,315.64L569.97,317.93L570.65,320.23L571.34,322.54L572.02,324.87L572.7,327.21L573.39,329.55L574.07,331.92L574.76,334.29L575.45,336.67L576.14,339.07L576.84,341.48L577.54,343.89L578.24,346.33L578.95,348.77L579.66,351.22L580.38,353.69L581.1,356.16L581.83,358.65L582.56,361.15L583.3,363.66L584.04,366.18L584.79,368.71L585.53,371.26L586.28,373.81L587.03,376.38L587.78,378.96L588.53,381.55L589.29,384.15L590.04,386.76L590.8,389.38L591.56,392.01L592.32,394.65L593.08,397.31L593.84,399.97L594.61,402.65L595.37,405.34L596.14,408.03L596.91,410.74L597.68,413.46L598.46,416.19L599.23,418.93L600.01,421.68L600.79,424.45L601.57,427.22L602.35,430L602.13,430L601.35,427.22L600.58,424.45L599.8,421.69L599.02,418.94L598.25,416.2L597.48,413.47L596.71,410.75L595.94,408.04L595.17,405.34L594.41,402.66L593.64,399.98L592.88,397.32L592.12,394.66L591.36,392.02L590.6,389.39L589.85,386.77L589.09,384.16L588.34,381.56L587.59,378.97L586.84,376.39L586.09,373.83L585.35,371.27L584.6,368.73L583.86,366.2L583.12,363.68L582.38,361.17L581.64,358.67L580.91,356.18L580.19,353.71L579.48,351.24L578.77,348.79L578.06,346.35L577.36,343.92L576.66,341.5L575.97,339.09L575.28,336.7L574.59,334.31L573.9,331.94L573.21,329.58L572.53,327.23L571.85,324.9L571.17,322.57L570.48,320.26L569.8,317.96L569.11,315.67L568.42,313.39L567.73,311.13L567.03,308.88L566.33,306.63L565.62,304.41L564.9,302.19L564.17,299.99L563.43,297.79L562.68,295.62L561.92,293.45L561.14,291.29L560.36,289.15L559.58,287.02L558.79,284.91L558,282.8L557.2,280.71L556.39,278.63L555.57,276.57L554.75,274.51L553.92,272.47L553.08,270.45L552.24,268.43L551.39,266.43L550.54,264.45L549.67,262.47L548.81,260.51L547.93,258.56L547.05,256.63L546.17,254.71L545.29,252.8L544.4,250.91L543.52,249.03L542.63,247.16L541.74,245.31L540.85,243.47L539.95,241.64L539.05,239.83L538.15,238.03L537.25,236.25L536.35,234.48L535.44,232.73L534.52,230.99L533.59,229.26L532.65,227.55L531.7,225.86L530.72,224.17L529.67,222.53L528.58,220.9L527.47,219.29L526.35,217.7L525.23,216.11L524.1,214.55L522.96,213L521.81,211.46L520.65,209.94L519.48,208.44L518.3,206.95L517.11,205.48L515.93,204L514.77,202.53L513.61,201.06L512.43,199.61L511.22,198.17L509.98,196.75L508.71,195.34L507.43,193.95L506.14,192.58L504.83,191.22L503.51,189.88L502.17,188.56L500.81,187.25L499.43,185.96L498.02,184.69L496.59,183.44L495.1,182.22Z" fill="#add8e6" fill-rule="evenodd"/>
<path d="M118.2,146.9L120.84,146.79L123.48,146.68L126.12,146.56L128.76,146.45L131.4,146.34L134.04,146.22L136.68,146.11L139.32,145.99L141.96,145.88L144.6,145.76L147.24,145.64L149.88,145.53L152.52,145.41L155.16,145.29L157.8,145.18L160.44,145.06L163.08,144.94L165.72,144.82L168.36,144.7L171,144.58L173.64,144.46L176.28,144.34L178.92,144.22L181.56,144.1L184.2,143.98L186.84,143.85L189.48,143.73L192.12,143.6L194.76,143.48L197.4,143.35L200.04,143.23L202.68,143.1L205.32,142.98L207.96,142.85L210.6,142.73L213.24,142.6L215.88,142.47L218.52,142.35L221.16,142.22L223.8,142.09L226.44,141.97L229.08,141.84L231.72,141.72L234.36,141.6L237,141.47L239.64,141.35L242.28,141.23L244.92,141.11L247.56,140.99L250.2,140.87L252.84,140.75L255.48,140.62L258.12,140.5L260.76,140.37L263.4,140.24L266.04,140.11L268.68,139.97L271.32,139.83L273.96,139.68L276.6,139.53L279.24,139.38L281.88,139.22L284.52,139.06L287.16,138.9L289.8,138.73L292.44,138.57L295.08,138.4L297.72,138.23L300.36,138.07L303,137.9L305.64,137.73L308.28,137.57L310.92,137.4L313.56,137.24L316.2,137.08L318.84,136.91L321.48,136.74L324.12,136.57L326.76,136.4L329.4,136.23L332.04,136.06L334.68,135.89L337.32,135.73L339.96,135.57L342.6,135.41L345.24,135.26L347.88,135.11L350.52,134.97L353.16,134.83L355.8,134.68L358.44,134.54L361.08,134.39L363.72,134.25L366.36,134.12L369,133.99L371.64,133.87L374.28,133.77L376.92,133.68L379.56,133.61L382.2,133.55L384.84,133.51L387.48,133.47L390.12,133.43L392.76,133.4L395.4,133.36L398.04,133.33L400.68,133.29L403.32,133.24L405.96,133.19L408.6,133.14L411.24,133.09L413.88,133.05L416.52,133.02L419.16,133L421.8,133.01L424.44,133.05L427.08,133.12L429.72,133.21L432.36,133.3L435,133.4L437.23,133.49L440.95,133.67L445.17,133.92L449.71,134.22L454.59,134.57L459.55,134.97L464.22,135.4L468.74,135.88L473.01,136.4L477.02,136.95L480.82,137.53L484.4,138.15L487.78,138.8L491.03,139.48L494.17,140.19L497.13,140.93L499.93,141.69L502.65,142.49L505.32,143.31L507.98,144.15L510.6,145.03L513.17,145.93L515.68,146.85L518.13,147.8L520.51,148.77L522.82,149.76L525.03,150.78L527.18,151.82L529.28,152.89L531.35,153.97L533.42,155.08L535.48,156.21L537.52,157.36L539.51,158.54L541.42,159.73L543.28,160.94L545.07,162.18L546.83,163.43L548.56,164.71L550.27,166L551.96,167.31L553.67,168.65L555.4,170L557.15,171.37L558.92,172.76L560.7,174.17L562.47,175.6L564.24,177.04L565.99,178.51L567.72,179.99L569.43,181.49L571.1,183.01L572.74,184.54L574.35,186.09L575.92,187.66L577.46,189.25L578.96,190.86L580.42,192.48L581.84,194.12L583.21,195.77L584.55,197.44L585.86,199.13L587.13,200.83L588.39,202.56L589.62,204.29L590.84,206.05L592.03,207.81L593.22,209.6L594.39,211.4L595.55,213.22L596.7,215.05L597.85,216.9L598.98,218.76L600.11,220.64L601.23,222.53L602.35,224.44L603.47,226.37L604.58,228.3L605.69,230.26L606.8,232.23L607.91,234.21L609.01,236.21L610.12,238.22L611.22,240.25L612.31,242.29L613.38,244.35L614.44,246.42L615.49,248.51L616.53,250.61L617.56,252.72L618.59,254.85L619.6,256.99L620.61,259.15L621.62,261.32L622.62,263.5L623.61,265.7L624.6,267.91L625.59,270.14L626.57,272.38L627.55,274.63L628.53,276.9L629.51,279.18L630.48,281.47L631.45,283.78L632.42,286.1L633.39,288.43L634.36,290.78L635.33,293.14L636.3,295.51L637.27,297.9L638.24,300.3L639.21,302.71L640.18,305.14L641.16,307.57L642.13,310.03L643.11,312.49L644.09,314.97L645.07,317.45L646.06,319.96L647.05,322.47L648.04,325L649.04,327.54L650.03,330.09L651.03,332.66L652.03,335.23L653.03,337.82L654.02,340.42L655.01,343.04L656,345.67L656.98,348.3L657.96,350.96L658.95,353.62L659.93,356.29L660.9,358.98L661.88,361.68L662.85,364.39L663.83,367.12L664.8,369.85L665.77,372.6L666.74,375.36L667.71,378.13L668.67,380.91L669.64,383.71L670.6,386.51L671.57,389.33L672.53,392.16L673.49,395L674.45,397.86L675.41,400.72L676.37,403.6L677.33,406.49L678.29,409.39L679.25,412.3L680.21,415.22L681.17,418.15L682.13,421.1L683.08,424.05L684.04,427.02L685,430L586,430L585.59,427.1L585.18,424.21L584.77,421.34L584.35,418.47L583.94,415.62L583.52,412.77L583.1,409.94L582.68,407.12L582.26,404.31L581.84,401.51L581.41,398.72L580.99,395.95L580.56,393.18L580.13,390.43L579.69,387.69L579.25,384.96L578.81,382.24L578.37,379.53L577.92,376.83L577.47,374.15L577.02,371.47L576.56,368.81L576.1,366.16L575.63,363.52L575.16,360.9L574.69,358.28L574.21,355.68L573.73,353.09L573.25,350.51L572.77,347.94L572.28,345.38L571.8,342.84L571.31,340.31L570.82,337.79L570.32,335.28L569.82,332.79L569.32,330.3L568.81,327.83L568.3,325.37L567.79,322.92L567.27,320.49L566.74,318.07L566.21,315.66L565.67,313.26L565.13,310.88L564.58,308.5L564.01,306.14L563.44,303.8L562.86,301.46L562.28,299.14L561.68,296.83L561.08,294.54L560.47,292.25L559.85,289.98L559.22,287.72L558.58,285.48L557.94,283.25L557.29,281.03L556.63,278.82L555.96,276.63L555.28,274.45L554.6,272.29L553.91,270.13L553.2,268L552.49,265.87L551.77,263.76L551.03,261.66L550.26,259.58L549.47,257.5L548.67,255.45L547.86,253.4L547.05,251.37L546.23,249.36L545.41,247.36L544.57,245.37L543.74,243.4L542.89,241.44L542.04,239.49L541.19,237.56L540.34,235.65L539.49,233.74L538.63,231.86L537.77,229.99L536.92,228.13L536.05,226.29L535.19,224.46L534.33,222.64L533.47,220.85L532.6,219.06L531.74,217.3L530.87,215.54L530.01,213.81L529.14,212.09L528.26,210.38L527.38,208.69L526.49,207.02L525.58,205.36L524.67,203.71L523.76,202.09L522.84,200.48L521.91,198.88L520.96,197.31L520,195.75L519.03,194.2L518.06,192.67L517.07,191.16L516.06,189.67L515.03,188.19L513.98,186.73L512.9,185.29L511.83,183.87L510.72,182.46L509.56,181.07L508.3,179.7L506.91,178.35L505.45,177.01L503.91,175.7L502.29,174.4L500.62,173.12L498.93,171.86L497.23,170.62L495.52,169.4L493.75,168.2L491.95,167.02L490.14,165.86L488.35,164.72L486.61,163.6L484.93,162.5L483.32,161.42L481.74,160.36L480.18,159.33L478.62,158.31L477.05,157.32L475.45,156.35L473.86,155.41L472.28,154.49L470.7,153.59L469.11,152.71L467.49,151.86L465.81,151.04L464.06,150.24L462.26,149.47L460.43,148.72L458.57,148L456.71,147.31L454.87,146.65L453.08,146.02L451.34,145.42L449.63,144.85L447.92,144.32L446.19,143.82L444.41,143.35L442.69,142.92L441.07,142.54L439.53,142.2L438.07,141.9L436.74,141.66L435.62,141.49L435,141.4L432.36,141.07L429.72,140.78L427.08,140.52L424.44,140.3L421.8,140.11L419.16,139.95L416.52,139.82L413.88,139.7L411.24,139.59L408.6,139.49L405.96,139.4L403.32,139.31L400.68,139.22L398.04,139.13L395.4,139.03L392.76,138.92L390.12,138.82L387.48,138.73L384.84,138.66L382.2,138.61L379.56,138.6L376.92,138.65L374.28,138.76L371.64,138.93L369,139.14L366.36,139.38L363.72,139.64L361.08,139.91L358.44,140.18L355.8,140.43L353.16,140.67L350.52,140.87L347.88,141.03L345.24,141.18L342.6,141.32L339.96,141.45L337.32,141.58L334.68,141.7L332.04,141.82L329.4,141.94L326.76,142.06L324.12,142.19L321.48,142.33L318.84,142.48L316.2,142.64L313.56,142.81L310.92,143.01L308.28,143.24L305.64,143.51L303,143.82L300.36,144.15L297.72,144.5L295.08,144.84L292.44,145.18L289.8,145.51L287.16,145.81L284.52,146.11L281.88,146.41L279.24,146.7L276.6,146.99L273.96,147.28L271.32,147.56L268.68,147.84L266.04,148.1L263.4,148.36L260.76,148.62L258.12,148.9L255.48,149.19L252.84,149.48L250.2,149.77L247.56,150.08L244.92,150.38L242.28,150.69L239.64,150.99L237,151.3L234.36,151.6L231.72,151.9L229.08,152.2L226.44,152.5L223.8,152.8L221.16,153.1L218.52,153.4L215.88,153.69L213.24,153.99L210.6,154.29L207.96,154.59L205.32,154.88L202.68,155.18L200.04,155.48L197.4,155.78L194.76,156.07L192.12,156.37L189.48,156.67L186.84,156.97L184.2,157.26L181.56,157.56L178.92,157.86L176.28,158.16L173.64,158.45L171,158.75L168.36,159.05L165.72,159.35L163.08,159.64L160.44,159.94L157.8,160.24L155.16,160.54L152.52,160.83L149.88,161.13L147.24,161.43L144.6,161.73L141.96,162.02L139.32,162.32L136.68,162.62L134.04,162.92L131.4,163.21L128.76,163.51L126.12,163.81L123.48,164.11L120.84,164.4L118.2,164.7ZM473.8,154.22L475.41,155.14L477.04,156.09L478.68,157.05L480.27,158.05L481.86,159.06L483.45,160.09L485.06,161.15L486.7,162.23L488.4,163.33L490.16,164.45L491.97,165.59L493.79,166.75L495.61,167.93L497.37,169.13L499.09,170.35L500.79,171.59L502.49,172.85L504.16,174.13L505.77,175.43L507.32,176.75L508.8,178.09L510.2,179.44L511.47,180.81L512.66,182.2L513.79,183.61L514.9,185.04L515.99,186.48L517.07,187.94L518.13,189.42L519.16,190.91L520.17,192.43L521.17,193.96L522.16,195.5L523.14,197.06L524.1,198.64L525.05,200.24L525.99,201.85L526.92,203.48L527.84,205.12L528.76,206.78L529.67,208.46L530.56,210.15L531.45,211.86L532.33,213.58L533.21,215.32L534.09,217.07L534.96,218.84L535.84,220.63L536.71,222.43L537.59,224.24L538.46,226.07L539.33,227.92L540.2,229.78L541.06,231.65L541.93,233.54L542.79,235.44L543.65,237.36L544.51,239.29L545.37,241.24L546.22,243.2L547.07,245.18L547.91,247.17L548.75,249.17L549.58,251.19L550.4,253.22L551.21,255.27L552.02,257.33L552.82,259.4L553.6,261.49L554.35,263.59L555.09,265.7L555.81,267.83L556.52,269.97L557.22,272.12L557.92,274.29L558.61,276.47L559.29,278.67L559.96,280.87L560.62,283.09L561.28,285.33L561.93,287.58L562.57,289.84L563.2,292.11L563.83,294.39L564.44,296.69L565.05,299L565.66,301.33L566.25,303.67L566.83,306.02L567.41,308.38L567.98,310.75L568.54,313.14L569.09,315.54L569.64,317.95L570.19,320.38L570.72,322.81L571.26,325.26L571.78,327.72L572.31,330.2L572.83,332.68L573.35,335.18L573.86,337.69L574.37,340.22L574.88,342.75L575.39,345.3L575.89,347.85L576.39,350.43L576.89,353.01L577.39,355.6L577.88,358.21L578.38,360.83L578.87,363.45L579.35,366.1L579.83,368.75L580.31,371.41L580.78,374.09L581.25,376.78L581.72,379.48L582.18,382.19L582.64,384.91L583.1,387.64L583.55,390.39L584.01,393.14L584.46,395.91L584.9,398.69L585.35,401.48L585.79,404.28L586.23,407.1L586.67,409.92L587.11,412.76L587.55,415.6L587.98,418.46L588.42,421.33L588.85,424.21L589.28,427.1L589.71,430L589.22,430L588.79,427.1L588.36,424.21L587.93,421.33L587.5,418.46L587.07,415.6L586.63,412.76L586.2,409.92L585.76,407.1L585.32,404.29L584.88,401.49L584.44,398.7L583.99,395.92L583.55,393.15L583.1,390.39L582.65,387.65L582.19,384.92L581.73,382.19L581.27,379.48L580.81,376.78L580.34,374.1L579.87,371.42L579.4,368.76L578.92,366.1L578.44,363.46L577.95,360.83L577.46,358.22L576.96,355.61L576.47,353.02L575.97,350.44L575.47,347.87L574.97,345.31L574.47,342.76L573.96,340.23L573.45,337.71L572.94,335.2L572.43,332.7L571.91,330.21L571.39,327.74L570.86,325.28L570.33,322.83L569.8,320.39L569.26,317.97L568.71,315.56L568.16,313.16L567.6,310.77L567.03,308.39L566.46,306.03L565.88,303.68L565.28,301.35L564.68,299.02L564.07,296.71L563.46,294.41L562.84,292.13L562.21,289.86L561.57,287.6L560.92,285.35L560.27,283.12L559.6,280.89L558.93,278.69L558.26,276.49L557.57,274.31L556.87,272.14L556.17,269.99L555.46,267.85L554.74,265.72L554.01,263.61L553.26,261.51L552.48,259.42L551.68,257.35L550.87,255.29L550.06,253.24L549.24,251.21L548.41,249.2L547.58,247.19L546.74,245.2L545.89,243.23L545.04,241.27L544.18,239.32L543.33,237.39L542.47,235.47L541.6,233.57L540.74,231.68L539.87,229.81L539.01,227.95L538.14,226.1L537.27,224.27L536.39,222.46L535.52,220.66L534.65,218.87L533.77,217.1L532.9,215.35L532.02,213.61L531.14,211.89L530.26,210.18L529.36,208.49L528.46,206.81L527.54,205.15L526.62,203.51L525.69,201.88L524.76,200.27L523.81,198.68L522.85,197.1L521.87,195.53L520.88,193.99L519.89,192.46L518.88,190.95L517.85,189.45L516.8,187.97L515.72,186.51L514.63,185.07L513.53,183.64L512.4,182.24L511.22,180.85L509.94,179.47L508.55,178.12L507.07,176.79L505.52,175.47L503.91,174.17L502.24,172.89L500.54,171.63L498.84,170.39L497.13,169.17L495.36,167.96L493.56,166.78L491.76,165.62L489.98,164.47L488.24,163.35L486.56,162.25L484.94,161.17L483.35,160.11L481.78,159.07L480.21,158.06L478.63,157.06L477.02,156.09L475.4,155.14L473.8,154.22ZM478.61,155.82L480.26,156.79L481.88,157.78L483.49,158.8L485.09,159.83L486.72,160.89L488.38,161.97L490.09,163.07L491.86,164.19L493.68,165.33L495.51,166.5L497.32,167.68L499.1,168.88L500.83,170.1L502.52,171.34L504.22,172.61L505.89,173.89L507.51,175.19L509.07,176.5L510.56,177.84L511.97,179.2L513.26,180.57L514.47,181.96L515.63,183.37L516.75,184.8L517.87,186.24L518.98,187.71L520.05,189.19L521.1,190.68L522.14,192.2L523.16,193.73L524.17,195.27L525.17,196.84L526.15,198.42L527.12,200.02L528.07,201.63L529.02,203.26L529.95,204.91L530.88,206.57L531.8,208.24L532.71,209.94L533.61,211.65L534.5,213.37L535.39,215.11L536.28,216.87L537.17,218.64L538.05,220.43L538.94,222.23L539.82,224.04L540.7,225.88L541.58,227.72L542.46,229.58L543.33,231.46L544.21,233.35L545.08,235.26L545.95,237.18L546.82,239.11L547.69,241.06L548.55,243.02L549.41,245L550.26,246.99L551.1,249L551.93,251.02L552.76,253.05L553.59,255.1L554.41,257.16L555.21,259.23L556,261.32L556.76,263.42L557.51,265.54L558.24,267.67L558.96,269.81L559.67,271.97L560.38,274.14L561.08,276.32L561.77,278.52L562.45,280.73L563.13,282.95L563.8,285.19L564.46,287.44L565.11,289.7L565.75,291.97L566.39,294.26L567.02,296.56L567.64,298.88L568.26,301.2L568.87,303.54L569.47,305.9L570.06,308.26L570.64,310.64L571.22,313.03L571.79,315.43L572.35,317.84L572.91,320.27L573.46,322.71L574.01,325.16L574.56,327.63L575.1,330.1L575.64,332.59L576.17,335.09L576.7,337.6L577.23,340.13L577.76,342.67L578.28,345.21L578.8,347.78L579.32,350.35L579.84,352.93L580.35,355.53L580.87,358.14L581.38,360.76L581.89,363.39L582.39,366.03L582.89,368.69L583.38,371.36L583.87,374.04L584.36,376.73L584.85,379.43L585.33,382.14L585.81,384.87L586.28,387.6L586.75,390.35L587.23,393.11L587.69,395.88L588.16,398.66L588.62,401.45L589.09,404.26L589.55,407.07L590.01,409.9L590.46,412.74L590.92,415.59L591.37,418.45L591.83,421.32L592.28,424.2L592.73,427.1L593.18,430L592.68,430L592.24,427.1L591.79,424.2L591.34,421.32L590.89,418.45L590.44,415.59L589.98,412.74L589.53,409.9L589.07,407.08L588.62,404.26L588.16,401.46L587.69,398.67L587.23,395.88L586.77,393.11L586.3,390.35L585.83,387.61L585.35,384.87L584.88,382.15L584.4,379.43L583.92,376.73L583.43,374.04L582.94,371.36L582.45,368.7L581.96,366.04L581.45,363.4L580.95,360.77L580.44,358.15L579.93,355.54L579.42,352.94L578.9,350.36L578.39,347.79L577.87,345.23L577.35,342.68L576.82,340.14L576.3,337.62L575.77,335.1L575.24,332.6L574.7,330.12L574.16,327.64L573.62,325.18L573.07,322.72L572.52,320.29L571.96,317.86L571.4,315.44L570.83,313.04L570.26,310.65L569.68,308.28L569.09,305.91L568.49,303.56L567.89,301.22L567.27,298.9L566.65,296.58L566.02,294.28L565.39,291.99L564.75,289.72L564.1,287.46L563.44,285.21L562.77,282.97L562.1,280.75L561.42,278.54L560.73,276.34L560.03,274.16L559.32,271.99L558.61,269.84L557.89,267.69L557.16,265.56L556.42,263.45L555.66,261.35L554.87,259.26L554.07,257.18L553.25,255.12L552.42,253.07L551.6,251.04L550.76,249.02L549.92,247.02L549.07,245.02L548.22,243.05L547.36,241.08L546.49,239.14L545.62,237.2L544.75,235.28L543.88,233.38L543.01,231.49L542.13,229.61L541.26,227.75L540.38,225.9L539.5,224.07L538.62,222.26L537.74,220.46L536.85,218.67L535.97,216.9L535.08,215.14L534.19,213.4L533.3,211.68L532.4,209.97L531.5,208.28L530.58,206.6L529.65,204.94L528.72,203.29L527.77,201.66L526.82,200.05L525.86,198.45L524.88,196.87L523.88,195.31L522.87,193.76L521.86,192.23L520.83,190.72L519.78,189.22L518.71,187.74L517.6,186.28L516.49,184.83L515.36,183.41L514.21,182L513.01,180.61L511.71,179.23L510.3,177.88L508.82,176.54L507.27,175.22L505.65,173.92L503.98,172.64L502.28,171.38L500.58,170.14L498.87,168.91L497.11,167.71L495.32,166.52L493.51,165.36L491.72,164.21L489.97,163.09L488.28,161.99L486.64,160.9L485.03,159.84L483.45,158.81L481.86,157.79L480.25,156.79L478.61,155.82ZM483.73,157.49L485.35,158.5L486.98,159.54L488.62,160.6L490.3,161.68L492.02,162.78L493.81,163.9L495.63,165.04L497.46,166.21L499.27,167.39L501.05,168.59L502.78,169.82L504.49,171.06L506.19,172.32L507.87,173.61L509.49,174.91L511.05,176.23L512.55,177.56L513.98,178.92L515.29,180.3L516.52,181.69L517.71,183.1L518.86,184.53L520.01,185.98L521.14,187.44L522.24,188.92L523.32,190.42L524.37,191.94L525.42,193.47L526.45,195.02L527.47,196.58L528.47,198.17L529.46,199.76L530.43,201.38L531.39,203.01L532.35,204.66L533.29,206.32L534.23,208L535.15,209.7L536.06,211.41L536.97,213.13L537.87,214.88L538.77,216.63L539.67,218.41L540.56,220.2L541.46,222L542.35,223.82L543.24,225.65L544.13,227.5L545.02,229.36L545.91,231.24L546.79,233.13L547.67,235.04L548.55,236.96L549.43,238.9L550.31,240.85L551.18,242.82L552.05,244.8L552.91,246.79L553.76,248.8L554.61,250.82L555.45,252.85L556.28,254.9L557.11,256.97L557.92,259.05L558.72,261.14L559.5,263.24L560.25,265.36L560.99,267.49L561.73,269.64L562.45,271.8L563.17,273.97L563.88,276.15L564.59,278.35L565.28,280.57L565.97,282.79L566.65,285.03L567.32,287.28L567.99,289.55L568.65,291.82L569.3,294.11L569.94,296.42L570.58,298.73L571.21,301.06L571.84,303.4L572.45,305.76L573.06,308.13L573.66,310.51L574.25,312.9L574.84,315.3L575.42,317.72L576,320.15L576.57,322.59L577.14,325.05L577.7,327.51L578.26,329.99L578.82,332.48L579.38,334.99L579.93,337.5L580.48,340.03L581.02,342.57L581.57,345.12L582.11,347.68L582.65,350.26L583.18,352.85L583.72,355.45L584.25,358.06L584.78,360.68L585.31,363.32L585.83,365.96L586.35,368.62L586.87,371.29L587.38,373.97L587.89,376.67L588.39,379.37L588.9,382.09L589.39,384.82L589.89,387.56L590.38,390.31L590.88,393.07L591.37,395.84L591.85,398.63L592.34,401.42L592.82,404.23L593.3,407.05L593.78,409.88L594.26,412.72L594.74,415.57L595.22,418.44L595.69,421.31L596.16,424.2L596.64,427.09L597.11,430L596.67,430L596.2,427.09L595.73,424.2L595.26,421.31L594.79,418.44L594.32,415.57L593.84,412.72L593.37,409.88L592.89,407.05L592.41,404.23L591.93,401.43L591.44,398.63L590.96,395.85L590.47,393.07L589.98,390.31L589.49,387.56L589,384.82L588.5,382.09L588,379.38L587.5,376.67L586.99,373.98L586.48,371.3L585.97,368.63L585.45,365.97L584.93,363.33L584.41,360.69L583.88,358.07L583.34,355.46L582.81,352.86L582.28,350.27L581.74,347.69L581.2,345.13L580.66,342.58L580.12,340.04L579.57,337.51L579.02,335L578.47,332.5L577.91,330L577.35,327.53L576.79,325.06L576.23,322.6L575.66,320.16L575.08,317.73L574.5,315.32L573.92,312.91L573.32,310.52L572.73,308.14L572.12,305.77L571.51,303.42L570.89,301.08L570.26,298.75L569.62,296.43L568.98,294.13L568.33,291.84L567.67,289.56L567.01,287.3L566.33,285.05L565.66,282.81L564.97,280.58L564.27,278.37L563.57,276.17L562.86,273.99L562.15,271.82L561.42,269.66L560.69,267.51L559.95,265.38L559.19,263.26L558.42,261.16L557.62,259.07L556.81,256.99L555.98,254.93L555.15,252.88L554.31,250.84L553.47,248.82L552.62,246.81L551.76,244.82L550.89,242.84L550.02,240.87L549.14,238.92L548.27,236.99L547.39,235.07L546.5,233.16L545.62,231.27L544.74,229.39L543.85,227.52L542.96,225.68L542.07,223.84L541.18,222.02L540.28,220.22L539.39,218.43L538.49,216.66L537.59,214.9L536.69,213.16L535.79,211.43L534.88,209.72L533.96,208.03L533.03,206.35L532.08,204.69L531.13,203.04L530.17,201.41L529.2,199.79L528.21,198.19L527.21,196.61L526.2,195.05L525.17,193.5L524.13,191.96L523.07,190.45L522,188.95L520.9,187.47L519.77,186.01L518.63,184.56L517.48,183.13L516.3,181.72L515.07,180.33L513.75,178.95L512.33,177.6L510.83,176.26L509.27,174.94L507.65,173.64L505.98,172.35L504.28,171.09L502.59,169.85L500.88,168.62L499.12,167.41L497.32,166.23L495.51,165.06L493.71,163.92L491.95,162.79L490.24,161.69L488.58,160.6L486.96,159.54L485.34,158.5L483.73,157.49ZM494.43,162.42L496.22,163.54L498.05,164.68L499.89,165.85L501.71,167.03L503.49,168.24L505.22,169.46L506.93,170.71L508.63,171.97L510.32,173.26L511.95,174.56L513.53,175.88L515.05,177.22L516.5,178.58L517.84,179.95L519.1,181.35L520.32,182.76L521.5,184.19L522.68,185.64L523.85,187.11L524.98,188.59L526.09,190.09L527.18,191.61L528.25,193.14L529.31,194.69L530.36,196.26L531.39,197.85L532.4,199.45L533.39,201.06L534.37,202.7L535.35,204.35L536.31,206.01L537.26,207.7L538.2,209.39L539.13,211.11L540.05,212.84L540.97,214.58L541.89,216.34L542.8,218.12L543.71,219.91L544.62,221.71L545.53,223.53L546.43,225.37L547.33,227.22L548.24,229.09L549.14,230.97L550.03,232.86L550.93,234.77L551.82,236.7L552.71,238.64L553.6,240.59L554.49,242.56L555.37,244.54L556.24,246.54L557.11,248.55L557.97,250.57L558.82,252.61L559.66,254.66L560.5,256.73L561.33,258.81L562.14,260.9L562.92,263.01L563.69,265.13L564.45,267.27L565.2,269.42L565.94,271.58L566.67,273.75L567.4,275.94L568.12,278.14L568.83,280.36L569.53,282.59L570.23,284.83L570.92,287.08L571.6,289.35L572.28,291.63L572.95,293.93L573.61,296.23L574.27,298.55L574.92,300.89L575.56,303.23L576.2,305.59L576.82,307.96L577.45,310.34L578.06,312.74L578.67,315.14L579.27,317.57L579.87,320L580.47,322.44L581.06,324.9L581.65,327.37L582.23,329.85L582.82,332.35L583.4,334.86L583.97,337.37L584.55,339.91L585.12,342.45L585.69,345L586.25,347.57L586.82,350.15L587.38,352.74L587.94,355.35L588.5,357.96L589.05,360.59L589.61,363.23L590.15,365.88L590.7,368.54L591.24,371.21L591.78,373.9L592.31,376.59L592.84,379.3L593.37,382.02L593.9,384.75L594.42,387.5L594.94,390.25L595.46,393.02L595.97,395.79L596.49,398.58L597,401.38L597.51,404.19L598.02,407.02L598.52,409.85L599.03,412.7L599.53,415.55L600.04,418.42L600.54,421.3L601.04,424.19L601.54,427.09L602.04,430L601.64,430L601.15,427.09L600.65,424.19L600.15,421.3L599.65,418.42L599.15,415.55L598.65,412.7L598.14,409.85L597.64,407.02L597.13,404.2L596.62,401.39L596.11,398.59L595.6,395.8L595.09,393.02L594.57,390.26L594.05,387.5L593.53,384.76L593.01,382.03L592.48,379.31L591.96,376.6L591.42,373.9L590.89,371.22L590.35,368.54L589.81,365.88L589.26,363.23L588.71,360.59L588.15,357.97L587.6,355.35L587.04,352.75L586.48,350.16L585.92,347.58L585.35,345.01L584.79,342.46L584.22,339.92L583.65,337.39L583.07,334.87L582.49,332.36L581.91,329.87L581.33,327.38L580.74,324.91L580.15,322.46L579.56,320.01L578.96,317.58L578.36,315.16L577.75,312.75L577.14,310.35L576.52,307.97L575.9,305.6L575.26,303.24L574.62,300.9L573.97,298.57L573.32,296.25L572.66,293.94L571.99,291.65L571.31,289.37L570.63,287.1L569.94,284.85L569.25,282.6L568.55,280.38L567.84,278.16L567.12,275.96L566.39,273.77L565.66,271.6L564.92,269.43L564.17,267.29L563.42,265.15L562.65,263.03L561.86,260.92L561.05,258.83L560.23,256.75L559.39,254.68L558.54,252.63L557.7,250.59L556.84,248.57L555.98,246.56L555.1,244.56L554.22,242.58L553.34,240.61L552.45,238.66L551.56,236.72L550.67,234.8L549.77,232.89L548.88,230.99L547.98,229.11L547.08,227.24L546.18,225.39L545.27,223.56L544.37,221.74L543.46,219.93L542.55,218.14L541.64,216.36L540.72,214.6L539.81,212.86L538.89,211.13L537.96,209.42L537.02,207.72L536.07,206.04L535.11,204.37L534.13,202.72L533.15,201.09L532.16,199.47L531.15,197.87L530.13,196.29L529.08,194.72L528.02,193.17L526.95,191.63L525.87,190.12L524.76,188.62L523.63,187.13L522.47,185.67L521.29,184.22L520.11,182.79L518.9,181.38L517.64,179.98L516.3,178.6L514.85,177.25L513.35,175.9L511.78,174.58L510.16,173.28L508.5,171.99L506.81,170.73L505.12,169.48L503.4,168.25L501.64,167.04L499.84,165.86L498.02,164.69L496.21,163.54L494.43,162.42ZM517.81,149.22L520.08,150.22L522.27,151.23L524.4,152.27L526.48,153.33L528.55,154.41L530.61,155.51L532.67,156.64L534.72,157.78L536.71,158.95L538.64,160.14L540.5,161.35L542.3,162.58L544.05,163.84L545.78,165.11L547.49,166.4L549.18,167.71L550.88,169.04L552.6,170.39L554.34,171.76L556.09,173.15L557.84,174.56L559.58,175.98L561.3,177.43L563.02,178.89L564.71,180.37L566.38,181.86L568.02,183.38L569.63,184.91L571.2,186.46L572.74,188.03L574.24,189.62L575.71,191.22L577.15,192.84L578.54,194.47L579.89,196.12L581.2,197.79L582.48,199.48L583.74,201.18L584.97,202.9L586.18,204.63L587.38,206.38L588.56,208.15L589.73,209.93L590.88,211.73L592.03,213.54L593.16,215.37L594.29,217.22L595.41,219.08L596.52,220.95L597.63,222.85L598.74,224.75L599.84,226.67L600.94,228.61L602.03,230.56L603.13,232.53L604.22,234.51L605.31,236.5L606.4,238.51L607.49,240.54L608.56,242.58L609.62,244.63L610.66,246.7L611.7,248.78L612.73,250.88L613.75,252.99L614.76,255.12L615.76,257.25L616.76,259.41L617.75,261.58L618.73,263.76L619.71,265.95L620.68,268.16L621.65,270.38L622.62,272.62L623.58,274.87L624.54,277.13L625.5,279.41L626.45,281.7L627.41,284L628.36,286.32L629.31,288.65L630.26,290.99L631.21,293.35L632.16,295.72L633.1,298.1L634.05,300.49L635,302.9L635.95,305.32L636.9,307.76L637.85,310.21L638.81,312.67L639.76,315.14L640.72,317.62L641.68,320.12L642.64,322.63L643.6,325.16L644.57,327.69L645.54,330.24L646.51,332.8L647.48,335.38L648.45,337.96L649.41,340.56L650.38,343.17L651.33,345.79L652.29,348.43L653.25,351.07L654.2,353.73L655.15,356.41L656.1,359.09L657.05,361.78L658,364.49L658.94,367.21L659.88,369.94L660.82,372.69L661.76,375.44L662.7,378.21L663.64,380.99L664.58,383.78L665.51,386.58L666.45,389.39L667.38,392.22L668.31,395.06L669.24,397.91L670.17,400.77L671.1,403.64L672.03,406.52L672.96,409.42L673.89,412.32L674.82,415.24L675.75,418.17L676.67,421.11L677.6,424.06L678.53,427.03L679.46,430L678.66,430L677.74,427.03L676.82,424.06L675.9,421.11L674.97,418.17L674.05,415.24L673.13,412.33L672.2,409.42L671.28,406.53L670.35,403.64L669.42,400.77L668.5,397.91L667.57,395.06L666.64,392.23L665.71,389.4L664.78,386.59L663.85,383.79L662.92,381L661.99,378.22L661.05,375.45L660.12,372.7L659.18,369.96L658.24,367.22L657.3,364.51L656.36,361.8L655.42,359.1L654.47,356.42L653.52,353.75L652.57,351.09L651.62,348.45L650.67,345.81L649.71,343.19L648.76,340.58L647.8,337.98L646.83,335.4L645.87,332.82L644.9,330.26L643.93,327.72L642.97,325.18L642.01,322.66L641.05,320.15L640.09,317.65L639.14,315.16L638.19,312.69L637.24,310.23L636.29,307.79L635.35,305.35L634.4,302.93L633.45,300.52L632.51,298.13L631.56,295.75L630.62,293.38L629.67,291.02L628.73,288.68L627.78,286.35L626.83,284.03L625.88,281.73L624.93,279.44L623.97,277.16L623.01,274.9L622.05,272.65L621.09,270.42L620.12,268.19L619.15,265.99L618.17,263.79L617.19,261.61L616.21,259.45L615.21,257.29L614.21,255.15L613.2,253.03L612.19,250.92L611.16,248.82L610.13,246.74L609.08,244.67L608.02,242.62L606.96,240.58L605.87,238.56L604.78,236.55L603.69,234.55L602.6,232.57L601.51,230.6L600.42,228.65L599.32,226.72L598.22,224.8L597.12,222.89L596.01,221L594.9,219.12L593.78,217.26L592.66,215.42L591.52,213.59L590.38,211.78L589.23,209.98L588.06,208.2L586.89,206.43L585.69,204.68L584.48,202.95L583.25,201.23L582,199.53L580.72,197.84L579.41,196.17L578.06,194.52L576.68,192.89L575.25,191.27L573.78,189.67L572.28,188.08L570.75,186.52L569.18,184.97L567.58,183.43L565.94,181.92L564.28,180.42L562.59,178.94L560.89,177.48L559.16,176.04L557.43,174.61L555.68,173.21L553.94,171.82L552.2,170.45L550.48,169.1L548.78,167.77L547.09,166.46L545.38,165.16L543.66,163.89L541.9,162.64L540.11,161.41L538.27,160.19L536.38,159L534.43,157.83L532.43,156.67L530.41,155.54L528.39,154.43L526.36,153.35L524.32,152.28L522.23,151.24L520.08,150.22L517.81,149.22ZM523.57,153.79L525.59,154.87L527.62,155.97L529.65,157.09L531.67,158.24L533.64,159.41L535.56,160.59L537.42,161.8L539.23,163.03L541,164.28L542.73,165.55L544.45,166.83L546.15,168.14L547.84,169.47L549.55,170.82L551.28,172.19L553,173.57L554.72,174.98L556.42,176.4L558.11,177.84L559.78,179.3L561.43,180.78L563.06,182.27L564.66,183.79L566.23,185.32L567.77,186.86L569.27,188.43L570.74,190.01L572.17,191.61L573.58,193.23L574.94,194.86L576.26,196.51L577.55,198.18L578.8,199.86L580.04,201.56L581.25,203.27L582.44,205L583.62,206.75L584.78,208.52L585.92,210.29L587.06,212.09L588.19,213.9L589.3,215.73L590.41,217.57L591.52,219.43L592.62,221.3L593.71,223.19L594.8,225.09L595.88,227.01L596.97,228.94L598.05,230.89L599.12,232.85L600.2,234.83L601.28,236.82L602.35,238.83L603.42,240.85L604.48,242.89L605.52,244.94L606.55,247L607.58,249.08L608.59,251.17L609.59,253.28L610.59,255.4L611.58,257.54L612.56,259.69L613.53,261.85L614.5,264.03L615.46,266.22L616.41,268.43L617.36,270.65L618.31,272.88L619.25,275.12L620.19,277.38L621.13,279.66L622.07,281.94L623,284.24L623.93,286.55L624.86,288.88L625.79,291.22L626.71,293.57L627.64,295.94L628.57,298.32L629.49,300.71L630.41,303.11L631.34,305.53L632.26,307.96L633.19,310.4L634.11,312.86L635.04,315.33L635.97,317.81L636.9,320.3L637.83,322.81L638.77,325.33L639.71,327.86L640.65,330.41L641.59,332.96L642.53,335.53L643.47,338.11L644.4,340.71L645.33,343.31L646.26,345.93L647.18,348.56L648.11,351.2L649.03,353.86L649.95,356.53L650.87,359.21L651.79,361.9L652.7,364.6L653.62,367.31L654.53,370.04L655.44,372.78L656.35,375.53L657.25,378.29L658.16,381.07L659.06,383.85L659.97,386.65L660.87,389.46L661.77,392.28L662.67,395.11L663.57,397.96L664.47,400.81L665.36,403.68L666.26,406.56L667.16,409.45L668.05,412.35L668.95,415.26L669.84,418.19L670.74,421.12L671.63,424.07L672.52,427.03L673.42,430L672.82,430L671.93,427.03L671.04,424.07L670.15,421.13L669.26,418.19L668.37,415.27L667.48,412.35L666.58,409.45L665.69,406.56L664.8,403.69L663.9,400.82L663.01,397.96L662.11,395.12L661.22,392.29L660.32,389.47L659.42,386.66L658.52,383.86L657.62,381.08L656.72,378.3L655.81,375.54L654.91,372.79L654,370.05L653.09,367.32L652.18,364.61L651.27,361.91L650.36,359.22L649.44,356.54L648.52,353.87L647.6,351.22L646.68,348.58L645.76,345.95L644.83,343.33L643.91,340.72L642.97,338.13L642.04,335.55L641.11,332.98L640.17,330.42L639.23,327.88L638.29,325.35L637.36,322.83L636.43,320.32L635.5,317.83L634.58,315.35L633.65,312.88L632.73,310.42L631.81,307.98L630.88,305.55L629.96,303.13L629.04,300.73L628.12,298.34L627.2,295.96L626.27,293.59L625.35,291.24L624.42,288.9L623.5,286.58L622.57,284.26L621.64,281.97L620.7,279.68L619.77,277.41L618.83,275.15L617.89,272.9L616.94,270.67L615.99,268.45L615.04,266.25L614.08,264.06L613.12,261.88L612.15,259.72L611.17,257.57L610.18,255.43L609.19,253.31L608.18,251.2L607.17,249.11L606.15,247.03L605.12,244.97L604.08,242.92L603.02,240.88L601.96,238.86L600.88,236.85L599.81,234.86L598.73,232.88L597.65,230.92L596.57,228.97L595.49,227.04L594.41,225.12L593.32,223.22L592.23,221.33L591.14,219.46L590.03,217.6L588.92,215.76L587.81,213.94L586.68,212.13L585.55,210.33L584.4,208.55L583.25,206.79L582.07,205.04L580.88,203.31L579.67,201.59L578.44,199.9L577.19,198.21L575.9,196.55L574.58,194.9L573.23,193.27L571.83,191.65L570.39,190.05L568.93,188.47L567.43,186.9L565.9,185.36L564.33,183.83L562.74,182.31L561.11,180.82L559.46,179.34L557.79,177.88L556.11,176.44L554.41,175.02L552.7,173.62L550.97,172.23L549.26,170.86L547.55,169.52L545.85,168.19L544.17,166.88L542.47,165.58L540.76,164.31L539.02,163.06L537.24,161.83L535.41,160.62L533.52,159.42L531.57,158.25L529.59,157.1L527.58,155.98L525.58,154.87L523.57,153.79Z" fill="#f08080" fill-rule="evenodd"/>
<path d="M229.1,344.8L230.69,342.48L232.28,340.15L233.87,337.83L235.46,335.5L237.05,333.17L238.63,330.85L240.22,328.52L241.81,326.19L243.4,323.86L244.99,321.53L246.58,319.2L248.17,316.87L249.76,314.54L251.35,312.21L252.94,309.88L254.53,307.55L256.11,305.21L257.7,302.88L259.29,300.54L260.88,298.21L262.47,295.87L264.06,293.53L265.65,291.19L267.24,288.85L268.83,286.5L270.42,284.15L272.01,281.8L273.59,279.45L275.18,277.1L276.77,274.75L278.36,272.4L279.95,270.06L281.54,267.71L283.13,265.37L284.72,263.02L286.31,260.69L287.9,258.35L289.48,256.02L291.07,253.69L292.66,251.37L294.25,249.05L295.84,246.74L297.43,244.44L299.02,242.14L300.61,239.85L302.2,237.57L303.79,235.28L305.38,233L306.96,230.72L308.55,228.43L310.14,226.15L311.73,223.86L313.32,221.56L314.91,219.26L316.5,216.96L318.09,214.64L319.68,212.31L321.27,209.97L322.86,207.61L324.44,205.25L326.03,202.87L327.62,200.48L329.21,198.09L330.8,195.7L332.39,193.3L333.98,190.91L335.57,188.51L337.16,186.13L338.75,183.75L340.34,181.38L341.92,179.03L343.51,176.68L345.1,174.36L346.69,172.05L348.28,169.76L349.87,167.5L351.46,165.26L353.05,163.03L354.64,160.82L356.23,158.62L357.82,156.45L359.4,154.28L360.99,152.14L362.58,150.01L364.17,147.9L365.76,145.8L367.35,143.73L368.94,141.68L370.53,139.65L372.12,137.63L373.71,135.62L375.29,133.62L376.88,131.62L378.47,129.62L380.06,127.62L381.65,125.61L383.24,123.59L384.83,121.58L386.42,119.58L388.01,117.6L389.6,115.65L391.19,113.73L392.77,111.78L394.36,109.84L395.95,107.93L397.54,106.08L399.13,104.32L400.72,102.68L402.31,101.13L403.9,99.63L405.49,98.2L407.08,96.86L408.67,95.62L410.25,94.5L411.84,93.46L413.43,92.5L415.02,91.61L416.61,90.81L418.2,90.1L426.5,90.1L435.2,101L435.2,346" fill="none" stroke="#ff0000" stroke-width="1.75" stroke-linejoin="round"/>
<path d="M173,345L174.59,342.76L176.19,340.53L177.78,338.3L179.38,336.07L180.97,333.84L182.57,331.61L184.16,329.37L185.75,327.12L187.35,324.88L188.94,322.63L190.54,320.39L192.13,318.16L193.73,315.94L195.32,313.73L196.92,311.54L198.51,309.37L200.1,307.22L201.7,305.1L203.29,303L204.89,300.92L206.48,298.85L208.08,296.8L209.67,294.76L211.26,292.74L212.86,290.72L214.45,288.72L216.05,286.72L217.64,284.74L219.24,282.76L220.83,280.79L222.42,278.83L224.02,276.86L225.61,274.91L227.21,272.95L228.8,271L230.4,269.05L231.99,267.09L233.58,265.14L235.18,263.18L236.77,261.22L238.37,259.25L239.96,257.28L241.56,255.3L243.15,253.32L244.75,251.32L246.34,249.32L247.93,247.29L249.53,245.23L251.12,243.17L252.72,241.11L254.31,239.07L255.91,237.05L257.5,235.07L259.09,233.14L260.69,231.26L262.28,229.43L263.88,227.64L265.47,225.88L267.07,224.15L268.66,222.43L270.25,220.72L271.85,219.01L273.44,217.31L275.04,215.59L276.63,213.86L278.23,212.11L279.82,210.35L281.42,208.58L283.01,206.82L284.6,205.06L286.2,203.31L287.79,201.57L289.39,199.86L290.98,198.17L292.58,196.5L294.17,194.85L295.76,193.21L297.36,191.59L298.95,190.01L300.55,188.45L302.14,186.95L303.74,185.48L305.33,184.04L306.92,182.64L308.52,181.26L310.11,179.92L311.71,178.62L313.3,177.34L314.9,176.11L316.49,174.9L318.08,173.72L319.68,172.57L321.27,171.44L322.87,170.32L324.46,169.23L326.06,168.15L327.65,167.09L329.25,166.06L330.84,165.04L332.43,164.04L334.03,163.05L335.62,162.09L337.22,161.15L338.81,160.22L340.41,159.31L342,158.4L343.59,157.5L345.19,156.59L346.78,155.67L348.38,154.76L349.97,153.88L351.57,153.04L353.16,152.26L354.75,151.54L356.35,150.84L357.94,150.17L359.54,149.52L361.13,148.91L362.73,148.33L364.32,147.79L365.92,147.29L367.51,146.82L369.1,146.36L370.7,145.93L372.29,145.52L373.89,145.13L375.48,144.77L377.08,144.43L378.67,144.13L380.26,143.86L381.86,143.6L383.45,143.35L385.05,143.12L386.64,142.91L388.24,142.72L389.83,142.56L391.42,142.44L393.02,142.34L394.61,142.26L396.21,142.17L397.8,142.1L399.4,142.03L400.99,141.98L402.58,141.94L404.18,141.91L405.77,141.9L407.37,141.93L408.96,142.02L410.56,142.15L412.15,142.33L413.75,142.53L415.34,142.75L416.93,142.99L418.53,143.28L420.12,143.65L421.72,144.11L423.31,144.63L424.91,145.2L426.5,145.8L435.2,158.7L435.2,346" fill="none" stroke="#0000ff" stroke-width="1.75" stroke-dasharray="13.1,6.23" stroke-dashoffset="-1.2"/>
<path d="M118.2,254.4L119.79,252.89L121.39,251.38L122.98,249.88L124.57,248.39L126.16,246.9L127.76,245.42L129.35,243.95L130.94,242.47L132.54,241L134.13,239.54L135.72,238.08L137.32,236.62L138.91,235.18L140.5,233.74L142.09,232.33L143.69,230.92L145.28,229.53L146.87,228.15L148.47,226.78L150.06,225.42L151.65,224.08L153.25,222.75L154.84,221.44L156.43,220.16L158.02,218.89L159.62,217.64L161.21,216.41L162.8,215.19L164.4,213.99L165.99,212.8L167.58,211.63L169.17,210.46L170.77,209.31L172.36,208.16L173.95,207.02L175.55,205.9L177.14,204.78L178.73,203.67L180.33,202.57L181.92,201.48L183.51,200.41L185.1,199.36L186.7,198.32L188.29,197.29L189.88,196.28L191.48,195.27L193.07,194.28L194.66,193.31L196.26,192.36L197.85,191.43L199.44,190.53L201.03,189.66L202.63,188.82L204.22,188L205.81,187.2L207.41,186.42L209,185.66L210.59,184.89L212.18,184.13L213.78,183.37L215.37,182.59L216.96,181.81L218.56,181.03L220.15,180.26L221.74,179.51L223.34,178.79L224.93,178.11L226.52,177.48L228.11,176.88L229.71,176.32L231.3,175.79L232.89,175.27L234.49,174.77L236.08,174.26L237.67,173.76L239.27,173.25L240.86,172.72L242.45,172.2L244.04,171.68L245.64,171.16L247.23,170.66L248.82,170.16L250.42,169.68L252.01,169.21L253.6,168.73L255.19,168.26L256.79,167.8L258.38,167.38L259.97,167.01L261.57,166.69L263.16,166.4L264.75,166.13L266.35,165.88L267.94,165.66L269.53,165.47L271.12,165.31L272.72,165.18L274.31,165.05L275.9,164.93L277.5,164.83L279.09,164.75L280.68,164.71L282.28,164.7L283.87,164.7L285.46,164.7L287.05,164.7L288.65,164.7L290.24,164.7L291.83,164.7L293.43,164.72L295.02,164.8L296.61,164.92L298.21,165.06L299.8,165.23L301.39,165.4L302.98,165.58L304.58,165.79L306.17,166.04L307.76,166.31L309.36,166.6L310.95,166.9L312.54,167.19L314.13,167.48L315.73,167.76L317.32,168.06L318.91,168.37L320.51,168.69L322.1,169.02L323.69,169.38L325.29,169.76L326.88,170.15L328.47,170.57L330.06,171L331.66,171.44L333.25,171.89L334.84,172.36L336.44,172.88L338.03,173.42L339.62,173.98L341.22,174.52L342.81,175.05L344.4,175.54L345.99,175.98L347.59,176.36L349.18,176.73L350.77,177.1L352.37,177.44L353.96,177.73L355.55,177.95L357.14,178.1L358.74,178.18L360.33,178.26L361.92,178.33L363.52,178.37L365.11,178.4L366.7,178.39L368.3,178.35L369.89,178.26L371.48,178.15L373.07,178.02L374.67,177.87L376.26,177.66L377.85,177.36L379.45,176.99L381.04,176.57L382.63,176.11L384.23,175.59L385.82,174.95L387.41,174.2L389,173.39L390.6,172.54L392.19,171.67L393.78,170.73L395.38,169.7L396.97,168.64L398.56,167.57L400.15,166.53L401.75,165.53L403.34,164.55L404.93,163.58L406.53,162.6L408.12,161.58L409.71,160.51L411.31,159.38L412.9,158.16L414.49,156.88L416.08,155.55L417.68,154.17L419.27,152.74L420.86,151.29L422.46,149.81L424.05,148.31L425.64,146.77L427.24,145.18L428.83,143.56L430.42,141.9L432.01,140.2L433.61,138.47L435.2,136.7L435.2,346" fill="none" stroke="#ff00ff" stroke-width="1.75" stroke-dasharray="7,9.25" stroke-dashoffset="0"/>
<path d="M118.2,223.8L119.55,222.69L120.91,221.58L122.28,220.49L123.65,219.4L125.03,218.32L126.42,217.25L127.81,216.19L129.21,215.14L130.62,214.11L132.04,213.09L133.47,212.08L134.91,211.08L136.35,210.09L137.8,209.1L139.25,208.12L140.7,207.14L142.16,206.16L143.61,205.18L145.06,204.2L146.51,203.22L147.95,202.22L149.38,201.22L150.81,200.2L152.23,199.18L153.65,198.15L155.07,197.12L156.49,196.1L157.92,195.09L159.36,194.09L160.81,193.12L162.28,192.16L163.76,191.23L165.25,190.32L166.75,189.41L168.26,188.52L169.77,187.64L171.28,186.76L172.8,185.88L174.32,185.01L175.83,184.13L177.35,183.25L178.86,182.37L180.38,181.49L181.91,180.63L183.44,179.77L184.97,178.93L186.51,178.11L188.07,177.31L189.63,176.52L191.2,175.75L192.78,174.98L194.36,174.23L195.95,173.49L197.54,172.77L199.14,172.05L200.74,171.35L202.35,170.66L203.97,169.99L205.59,169.32L207.21,168.67L208.84,168.03L210.47,167.39L212.11,166.76L213.74,166.13L215.38,165.5L217.01,164.86L218.65,164.23L220.29,163.61L221.93,163.01L223.59,162.44L225.25,161.89L226.92,161.39L228.6,160.91L230.29,160.46L231.99,160.02L233.69,159.6L235.39,159.19L237.1,158.78L238.8,158.37L240.5,157.96L242.2,157.53L243.9,157.11L245.61,156.7L247.31,156.3L249.02,155.93L250.74,155.59L252.46,155.28L254.18,154.97L255.91,154.67L257.64,154.41L259.38,154.18L261.12,153.99L262.86,153.82L264.6,153.66L266.35,153.51L268.1,153.4L269.85,153.32L271.6,153.3L273.35,153.33L275.1,153.39L276.85,153.48L278.6,153.59L280.35,153.71L282.09,153.84L283.83,154L285.57,154.21L287.31,154.45L289.04,154.71L290.77,154.99L292.5,155.28L294.22,155.6L295.93,155.95L297.65,156.33L299.35,156.74L301.05,157.17L302.74,157.62L304.41,158.11L306.08,158.64L307.75,159.21L309.4,159.8L311.04,160.41L312.68,161.03L314.3,161.67L315.92,162.35L317.52,163.05L319.12,163.77L320.71,164.5L322.31,165.23L323.9,165.96L325.48,166.7L327.06,167.46L328.64,168.22L330.21,168.99L331.78,169.76L333.36,170.53L334.93,171.3L336.5,172.07L338.07,172.84L339.64,173.62L341.21,174.4L342.77,175.18L344.34,175.97L345.91,176.75L347.47,177.53L349.04,178.32L350.6,179.1L352.17,179.88L353.73,180.67L355.3,181.45L356.87,182.23L358.43,183.02L360,183.8L361.56,184.58L363.13,185.37L364.7,186.15L366.26,186.93L367.83,187.71L369.39,188.5L370.96,189.28L372.53,190.06L374.09,190.85L375.67,191.62L377.25,192.37L378.84,193.13L380.41,193.9L381.96,194.71L383.47,195.58L384.96,196.49L386.44,197.45L387.89,198.44L389.31,199.48L390.69,200.55L392.03,201.66L393.33,202.84L394.58,204.07L395.79,205.35L396.94,206.66L398.04,208.02L399.1,209.43L400.1,210.88L401.02,212.36L401.85,213.88L402.63,215.45L403.35,217.05L404.05,218.67L404.74,220.28L405.41,221.9L406.06,223.53L406.68,225.16L407.29,226.81L407.86,228.46L408.42,230.12L408.97,231.78L409.52,233.45L410.05,235.13L410.55,236.81L411.03,238.5L411.48,240.19L411.88,241.88L412.26,243.58L412.62,245.29L412.96,247L413.3,248.71L413.62,250.43L413.94,252.15L414.24,253.87L414.54,255.6L414.82,257.33L415.1,259.06L415.37,260.8L415.64,262.53L415.89,264.27L416.15,266.01L416.39,267.74L416.63,269.48L416.87,271.22L417.1,272.96L417.33,274.7L417.56,276.43L417.79,278.17L418,279.9L418.21,281.64L418.42,283.38L418.61,285.12L418.8,286.86L418.99,288.6L419.17,290.34L419.35,292.08L419.53,293.82L419.7,295.57L419.88,297.31L420.05,299.05L420.23,300.8L420.4,302.54L420.58,304.28L420.76,306.02L420.95,307.76L421.14,309.51L421.33,311.24L421.53,312.98L421.74,314.72L421.95,316.46L422.17,318.2L422.39,319.93L422.62,321.67L422.84,323.41L423.07,325.14L423.3,326.88L423.52,328.62L423.75,330.35L423.97,332.09L424.19,333.83L424.41,335.56L424.62,337.3L424.82,339.04L425.02,340.78L425.22,342.52L425.41,344.26L425.6,346" fill="none" stroke="#000" stroke-width="1.75" stroke-dasharray="3.7,4.36" stroke-dashoffset="0"/>
</g>
<path d="M211.1,40H262.9" stroke="#ff0000" stroke-width="1.75"/>
<path d="M211.1,63H262.9" stroke="#0000ff" stroke-width="1.75" stroke-dasharray="12.5,7.2"/>
<path d="M211.1,86.2H262.9" stroke="#ff00ff" stroke-width="1.75" stroke-dasharray="6.6,9.6"/>
<path d="M211.1,109.2H262.9" stroke="#000" stroke-width="1.75" stroke-dasharray="4.2,3.8"/>
<path d="M477,40H528.9" stroke="#add8e6" stroke-width="1.75"/>
<path d="M477,63.2H528.9" stroke="#f08080" stroke-width="1.2"/>
<path d="M150.86,344.9v-5.4M150.86,23.6v5.4M169.97,344.9v-5.4M169.97,23.6v5.4M183.52,344.9v-5.4M183.52,23.6v5.4M194.04,344.9v-5.4M194.04,23.6v5.4M202.63,344.9v-5.4M202.63,23.6v5.4M209.89,344.9v-5.4M209.89,23.6v5.4M216.19,344.9v-5.4M216.19,23.6v5.4M221.74,344.9v-5.4M221.74,23.6v5.4M226.7,344.9v-10.3M226.7,23.6v10.3M259.36,344.9v-5.4M259.36,23.6v5.4M278.47,344.9v-5.4M278.47,23.6v5.4M292.02,344.9v-5.4M292.02,23.6v5.4M302.54,344.9v-5.4M302.54,23.6v5.4M311.13,344.9v-5.4M311.13,23.6v5.4M318.39,344.9v-5.4M318.39,23.6v5.4M324.69,344.9v-5.4M324.69,23.6v5.4M330.24,344.9v-5.4M330.24,23.6v5.4M335.2,344.9v-10.3M335.2,23.6v10.3M367.86,344.9v-5.4M367.86,23.6v5.4M386.97,344.9v-5.4M386.97,23.6v5.4M400.52,344.9v-5.4M400.52,23.6v5.4M411.04,344.9v-5.4M411.04,23.6v5.4M419.63,344.9v-5.4M419.63,23.6v5.4M426.89,344.9v-5.4M426.89,23.6v5.4M433.19,344.9v-5.4M433.19,23.6v5.4M438.74,344.9v-5.4M438.74,23.6v5.4M443.7,344.9v-10.3M443.7,23.6v10.3M476.36,344.9v-5.4M476.36,23.6v5.4M495.47,344.9v-5.4M495.47,23.6v5.4M509.02,344.9v-5.4M509.02,23.6v5.4M519.54,344.9v-5.4M519.54,23.6v5.4M528.13,344.9v-5.4M528.13,23.6v5.4M535.39,344.9v-5.4M535.39,23.6v5.4M541.69,344.9v-5.4M541.69,23.6v5.4M547.24,344.9v-5.4M547.24,23.6v5.4M118.2,79.74h5.4M552.2,79.74h-5.4M118.2,65.6h5.4M552.2,65.6h-5.4M118.2,55.56h5.4M552.2,55.56h-5.4M118.2,47.78h5.4M552.2,47.78h-5.4M118.2,41.42h5.4M552.2,41.42h-5.4M118.2,36.04h5.4M552.2,36.04h-5.4M118.2,31.38h5.4M552.2,31.38h-5.4M118.2,27.28h5.4M552.2,27.28h-5.4M118.2,103.92h10.3M552.2,103.92h-10.3M118.2,160.07h5.4M552.2,160.07h-5.4M118.2,145.93h5.4M552.2,145.93h-5.4M118.2,135.89h5.4M552.2,135.89h-5.4M118.2,128.11h5.4M552.2,128.11h-5.4M118.2,121.75h5.4M552.2,121.75h-5.4M118.2,116.37h5.4M552.2,116.37h-5.4M118.2,111.71h5.4M552.2,111.71h-5.4M118.2,107.6h5.4M552.2,107.6h-5.4M118.2,184.25h10.3M552.2,184.25h-10.3M118.2,240.39h5.4M552.2,240.39h-5.4M118.2,226.25h5.4M552.2,226.25h-5.4M118.2,216.21h5.4M552.2,216.21h-5.4M118.2,208.43h5.4M552.2,208.43h-5.4M118.2,202.07h5.4M552.2,202.07h-5.4M118.2,196.69h5.4M552.2,196.69h-5.4M118.2,192.03h5.4M552.2,192.03h-5.4M118.2,187.93h5.4M552.2,187.93h-5.4M118.2,264.57h10.3M552.2,264.57h-10.3M118.2,320.72h5.4M552.2,320.72h-5.4M118.2,306.58h5.4M552.2,306.58h-5.4M118.2,296.54h5.4M552.2,296.54h-5.4M118.2,288.76h5.4M552.2,288.76h-5.4M118.2,282.4h5.4M552.2,282.4h-5.4M118.2,277.02h5.4M552.2,277.02h-5.4M118.2,272.36h5.4M552.2,272.36h-5.4M118.2,268.25h5.4M552.2,268.25h-5.4" stroke="#000" stroke-width="1.2" fill="none"/>
<path d="M118.2,22.8V345.6" stroke="#000" stroke-width="1.6"/>
<path d="M117.4,23.45H552.9" stroke="#000" stroke-width="1.1"/>
<path d="M552.2,22.8V345.6" stroke="#333" stroke-width="1.4"/>
<path d="M117.4,344.9H552.9" stroke="#666" stroke-width="1.5"/>
<text x="105.8" y="32.3" font-family="'Liberation Sans', sans-serif" font-size="19.4" text-anchor="end" fill="#000">10<tspan dy="-10.3" font-size="15.2" font-family="'Liberation Sans'">-26</tspan></text>
<text x="105.8" y="112.62" font-family="'Liberation Sans', sans-serif" font-size="19.4" text-anchor="end" fill="#000">10<tspan dy="-10.3" font-size="15.2" font-family="'Liberation Sans'">-27</tspan></text>
<text x="105.8" y="192.95" font-family="'Liberation Sans', sans-serif" font-size="19.4" text-anchor="end" fill="#000">10<tspan dy="-10.3" font-size="15.2" font-family="'Liberation Sans'">-28</tspan></text>
<text x="105.8" y="273.27" font-family="'Liberation Sans', sans-serif" font-size="19.4" text-anchor="end" fill="#000">10<tspan dy="-10.3" font-size="15.2" font-family="'Liberation Sans'">-29</tspan></text>
<text x="105.8" y="353.6" font-family="'Liberation Sans', sans-serif" font-size="19.4" text-anchor="end" fill="#000">10<tspan dy="-10.3" font-size="15.2" font-family="'Liberation Sans'">-30</tspan></text>
<text x="121" y="370.7" font-family="'Liberation Sans', sans-serif" font-size="19.4" text-anchor="middle" fill="#000">1</text>
<text x="229.5" y="370.7" font-family="'Liberation Sans', sans-serif" font-size="19.4" text-anchor="middle" fill="#000">10</text>
<text x="338" y="370.7" font-family="'Liberation Sans', sans-serif" font-size="19.4" text-anchor="middle" fill="#000">100</text>
<text x="446.5" y="370.7" font-family="'Liberation Sans', sans-serif" font-size="19.4" text-anchor="middle" fill="#000">1000</text>
<text x="555" y="370.7" font-family="'Liberation Sans', sans-serif" font-size="19.4" text-anchor="middle" fill="#000">10000</text>
<text x="336" y="400.6" font-family="'Liberation Sans', sans-serif" font-size="19.4" text-anchor="middle" fill="#000">E(GeV)</text>
<text transform="translate(48,184.8) rotate(-90)" font-family="'Liberation Sans', sans-serif" font-size="19.4" text-anchor="middle" fill="#000">E<tspan dy="-11.8" font-size="15.2" font-family="'Liberation Sans'">2</tspan><tspan dy="11.8" font-size="19.4">&#8203;</tspan>dN/dE(GeV cm<tspan dy="-11.8" font-size="15.2" font-family="'Liberation Sans'">-3</tspan><tspan dy="11.8" font-size="19.4">&#8203;</tspan> s<tspan dy="-11.8" font-size="15.2" font-family="'Liberation Sans'">-1</tspan><tspan dy="11.8" font-size="19.4">&#8203;</tspan>)</text>
<text x="199.5" y="48.9" font-family="'Liberation Serif', sans-serif" font-size="21" text-anchor="end" fill="#000">&#956;<tspan dy="-9.4" font-size="15.2" font-family="'Liberation Sans'">+</tspan><tspan dy="9.4" font-size="21">&#8203;</tspan>&#956;<tspan dy="-10.7" font-size="15.2" font-family="'Liberation Sans'">-</tspan></text>
<text x="199.5" y="70.5" font-family="'Liberation Serif', sans-serif" font-size="21" text-anchor="end" fill="#000">&#964;<tspan dy="-8.4" font-size="15.2" font-family="'Liberation Sans'">+</tspan><tspan dy="8.4" font-size="21">&#8203;</tspan>&#964;<tspan dy="-8.9" font-size="15.2" font-family="'Liberation Sans'">-</tspan></text>
<text x="199.5" y="95.5" font-family="'Liberation Sans', sans-serif" font-size="19.4" text-anchor="end" fill="#000">W<tspan dy="-10.2" font-size="15.2" font-family="'Liberation Sans'">+</tspan><tspan dy="10.2" font-size="19.4">&#8203;</tspan>W<tspan dy="-10.2" font-size="15.2" font-family="'Liberation Sans'">-</tspan></text>
<text x="199.5" y="116.2" font-family="'Liberation Sans', sans-serif" font-size="19.4" text-anchor="end" fill="#000">b-bbar</text>
<text x="465.7" y="46.7" font-family="'Liberation Sans', sans-serif" font-size="19.4" text-anchor="end" fill="#000">pulsar-II-b</text>
<text x="465.7" y="69.8" font-family="'Liberation Sans', sans-serif" font-size="19.4" text-anchor="end" fill="#000">pulsar-I-b</text>
</svg>
</body></html>
